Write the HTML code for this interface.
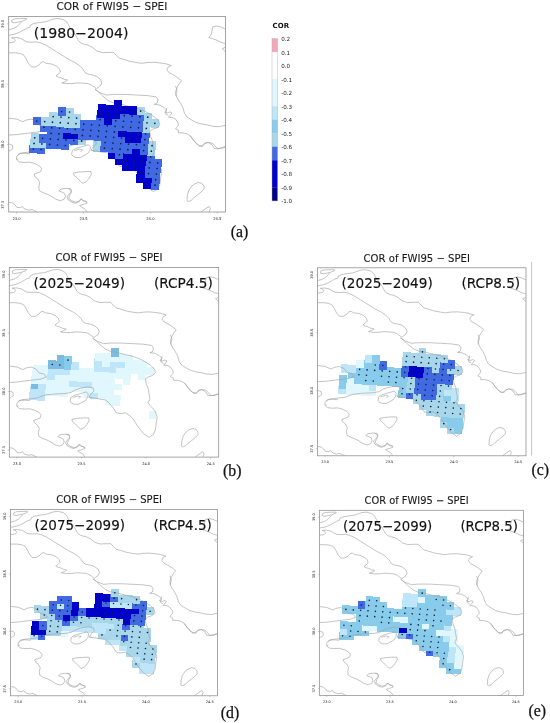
<!DOCTYPE html>
<html lang="en"><head><meta charset="utf-8"><title>COR of FWI95 - SPEI</title>
<style>html,body{margin:0;padding:0;background:#fff}svg{display:block}text{font-family:"DejaVu Sans","Liberation Sans",sans-serif}</style>
</head><body>
<svg width="550" height="723" viewBox="0 0 550 723">
<rect width="550" height="723" fill="#fff"/>
<defs><clipPath id="fc"><rect x="0" y="0" width="216.8" height="195.5"/></clipPath>
<path id="coast" d="M2.9 3.9 L5.8 2.4 L11.7 2.0 L17.9 2.0 L17.5 3.1 L13.8 4.6 L9.5 5.6 L5.8 6.3 L3.4 5.9Z M0.0 13.3 L5.1 11.9 L8.8 9.7 L10.9 7.5 L12.7 5.6 M0.0 18.8 L5.8 17.7 L10.9 15.8 L15.3 13.3 L18.2 11.6 L21.1 10.8 L21.8 8.5 L24.8 7.1 L30.6 6.0 L36.4 5.3 L40.8 3.9 L45.1 2.4 L50.2 2.0 L55.3 3.4 L58.2 5.6 L59.7 8.2 L61.1 11.1 L63.3 14.0 L66.2 17.7 L68.4 21.3 L69.8 24.2 L72.0 26.4 L75.7 27.9 L79.3 28.6 M79.3 28.6 L83.7 30.8 L88.0 34.4 L93.8 36.2 L99.7 35.9 L104.8 35.9 L107.7 38.8 L110.6 41.7 L115.7 43.1 L121.5 44.9 L127.3 46.0 L133.1 46.8 L138.9 46.0 L144.8 45.8 L150.6 46.3 M150.6 46.3 L156.8 47.2 L162.6 49.0 L159.7 50.4 L158.2 53.3 L160.4 56.2 L164.8 58.4 L169.1 61.3 L172.8 64.2 L170.6 67.1 L168.4 70.8 L166.9 75.1 L167.7 79.5 M166.9 69.5 L168.4 73.9 L166.9 78.2 L169.1 82.6 L172.0 87.0 L174.2 91.3 L175.7 96.4 L177.8 100.0 L182.2 103.0 L187.3 105.9 L193.1 107.6 L198.9 108.5 L204.8 109.9 L210.6 110.2 L216.7 108.8 M0.0 26.4 L5.1 25.7 L6.6 23.9 L5.1 22.0 L2.9 21.3 L7.3 21.0 L12.4 22.0 L15.3 23.9 L18.2 25.4 L23.3 25.7 L27.7 25.4 L32.0 26.4 L37.1 28.6 L42.9 32.2 L48.8 35.9 L54.6 39.5 L60.4 43.1 L66.2 46.0 L70.6 49.0 L74.2 52.6 L76.4 56.2 L79.3 57.7 M79.3 57.7 L83.7 58.4 L88.0 59.9 L91.7 62.8 L93.1 66.4 L91.7 69.3 L89.5 70.8 L87.7 72.2 M0.0 36.3 L6.6 36.3 L11.7 37.0 L15.3 38.8 L17.5 42.4 L19.7 46.8 L22.6 50.4 L26.9 50.4 L30.6 48.2 L32.5 45.8 L34.9 45.3 L37.4 46.8 L42.9 47.5 L48.0 49.7 L50.9 52.6 L51.7 55.5 L49.5 57.7 L47.3 59.4 L49.5 60.6 L52.4 61.3 L55.3 62.8 L58.9 63.5 L56.8 65.0 L53.1 66.4 L57.5 67.1 L63.3 67.1 L69.1 66.4 L74.9 66.7 L79.3 67.1 M79.3 67.1 L82.9 68.6 L85.8 70.8 L87.7 72.2 M216.7 12.6 L212.0 10.4 L207.7 9.4 L204.0 10.4 L203.3 14.0 L202.6 17.7 L200.1 21.0 L203.3 22.0 L207.7 23.5 L212.0 25.7 L216.7 27.1 M216.7 30.8 L213.5 32.2 L216.7 35.1 M0.1 101.6 L8.0 102.6 L14.2 105.3 L17.3 103.6 L22.5 102.6 L27.6 104.7 L30.7 108.8 L35.9 109.8 L38.4 112.9 L32.8 115.0 L24.5 116.0 L16.3 117.0 L8.0 118.1 L0.1 118.5 M0.1 127.3 L3.8 128.8 L4.2 132.1 L1.3 134.1 L0.1 134.6 M9.0 138.7 L12.1 136.6 L20.4 135.6 L28.7 134.6 L37.0 131.5 L47.3 130.4 L57.7 130.0 L63.9 128.8 L68.0 126.3 L74.2 124.2 L81.5 123.2 L86.7 124.2 L87.7 127.3 L84.6 130.4 L82.5 133.5 L85.6 134.6 M82.5 133.8 L88.2 134.7 L93.8 135.7 L99.5 136.6 L103.2 139.4 L107.0 144.1 L110.8 149.7 L114.5 150.7 L120.2 149.7 L125.8 153.5 L129.6 158.2 L132.4 162.9 L135.2 166.6 L139.0 171.3 L144.6 175.1 L149.3 172.2 L151.2 167.6 L152.2 160.1 L153.1 154.4 L151.2 148.8 L148.4 145.1 L145.6 142.2 L143.7 139.4 L145.6 135.7 L144.6 130.1 L143.7 124.4 L141.8 119.8 L140.9 115.1 L143.7 112.8 L148.4 111.3 L151.2 108.5 L150.3 104.8 L146.5 101.0 L140.9 97.3 L135.2 94.4 L127.7 91.6 L120.2 89.8 L112.6 87.9 L105.1 86.6 L99.5 84.1 L93.8 79.4 L90.0 75.7 L86.3 72.9 M86.3 72.9 L91.0 76.1 L97.6 78.5 L105.1 77.9 L116.4 77.9 L127.7 78.5 L139.0 79.1 L147.5 80.4 L149.3 83.2 L148.4 86.6 L145.6 87.9 L150.3 88.4 L155.0 90.7 L157.8 93.5 L156.9 97.3 L159.7 99.1 M158.2 91.3 L157.5 94.2 L156.0 95.7 L158.9 96.4 L161.1 95.4 L163.3 96.4 L161.1 99.3 L159.7 100.8 L163.3 100.8 L166.9 102.7 L169.1 105.9 L169.8 108.8 L167.7 111.0 L166.9 112.4 L169.8 113.9 L169.8 116.3 L174.2 116.3 L178.6 117.5 L182.2 119.7 L184.4 123.3 L187.3 126.2 L190.2 129.1 L193.8 129.9 L195.3 127.7 L198.9 125.9 L203.3 126.5 L206.2 129.1 L208.4 132.0 L212.0 132.0 L216.7 130.6 M9.5 142.8 L7.7 142.8 L8.0 139.9 L10.2 137.2 L15.3 136.7 L21.1 137.2 M7.7 142.8 L10.2 145.4 L15.3 146.0 L21.1 145.7 L26.2 147.1 L30.6 149.3 L33.0 152.2 L32.0 155.1 L28.4 156.6 L25.2 157.6 L26.2 160.2 L29.1 162.4 L31.0 166.0 L30.1 170.4 L30.6 174.0 L34.2 176.2 L38.6 177.7 L42.9 179.9 L47.3 182.8 L51.7 184.2 L55.3 182.8 L56.8 179.9 L56.0 177.0 L53.1 175.5 L50.2 174.5 L52.4 172.6 L56.8 171.9 L61.8 172.2 L63.0 174.8 L60.4 177.7 L58.2 180.6 L59.7 183.5 L63.3 185.7 L66.9 186.7 L70.6 185.0 L72.8 182.3 L74.9 184.2 L78.6 185.7 M0.0 185.7 L3.7 186.4 L6.6 188.6 L8.0 190.8 L11.7 191.1 L13.8 190.0 L15.3 192.2 L19.7 193.7 L23.3 193.0 L26.2 194.4 L28.4 195.4 M62.9 137.7 L63.7 134.0 L67.3 131.9 L72.4 130.4 L76.0 129.4 L79.7 128.2 L81.8 130.4 L81.1 134.0 L78.9 137.0 L75.3 139.1 L71.7 141.0 L67.3 141.0 L64.4 139.9Z M65.8 134.0 L70.9 132.6 L73.8 133.3 L71.7 135.5 M64.8 156.6 L69.5 155.6 L76.8 155.1 L82.3 155.1 L82.6 158.0 L80.4 161.7 L77.5 165.3 L73.8 166.8 L70.9 163.9 L68.0 161.0 L65.4 158.8Z M59.3 171.9 L61.9 173.3 L62.5 176.2 L60.8 179.1 L60.0 182.0 L62.9 184.2 L66.6 185.7 L70.2 185.0 L72.1 182.3 L73.8 184.2 L77.5 185.0 L78.2 186.7 L74.6 187.9 L70.9 189.0 L73.1 190.8 L76.0 192.2 L78.2 195.4 M181.5 119.5 L184.4 123.1 L187.3 126.8 L190.9 129.7 L193.8 129.0 L196.0 126.5 L199.7 126.0 L203.3 128.2 L205.5 131.9 L209.1 132.3 L213.5 131.1 L216.7 130.0 M178.3 184.2 L178.6 179.1 L180.0 174.0 L182.9 169.7 L185.8 167.5 L189.5 166.0 L193.1 166.8 L195.3 169.7 L195.3 172.6 L192.4 175.5 L188.8 178.4 L185.1 181.3 L182.2 184.2 L179.3 185.0Z M192.4 195.4 L196.8 192.2 L200.4 190.0 L201.6 192.2 L200.4 195.4" fill="none" stroke="#a4a4a4" stroke-width="0.68" stroke-linejoin="round"/></defs>
<g transform="translate(8.70 16.50) scale(1.0000 1.0000)">
<g clip-path="url(#fc)">
<g shape-rendering="crispEdges">
<rect x="134.44" y="163.85" width="8.00" height="8.70" fill="#0000cd"/>
<rect x="142.26" y="164.37" width="8.00" height="8.70" fill="#4169e1"/>
<rect x="127.32" y="157.75" width="8.00" height="8.70" fill="#0000cd"/>
<rect x="135.14" y="158.27" width="8.00" height="8.70" fill="#0000cd"/>
<rect x="142.96" y="158.79" width="8.00" height="8.70" fill="#4169e1"/>
<rect x="128.02" y="152.17" width="8.00" height="8.70" fill="#0000cd"/>
<rect x="135.84" y="152.69" width="8.00" height="8.70" fill="#4169e1"/>
<rect x="143.66" y="153.21" width="8.00" height="8.70" fill="#4169e1"/>
<rect x="113.08" y="145.55" width="8.00" height="8.70" fill="#0000cd"/>
<rect x="120.90" y="146.07" width="8.00" height="8.70" fill="#0000cd"/>
<rect x="128.72" y="146.59" width="8.00" height="8.70" fill="#0000cd"/>
<rect x="136.54" y="147.11" width="8.00" height="8.70" fill="#4169e1"/>
<rect x="144.36" y="147.63" width="8.00" height="8.70" fill="#4169e1"/>
<rect x="105.96" y="139.45" width="8.00" height="8.70" fill="#0000cd"/>
<rect x="113.78" y="139.97" width="8.00" height="8.70" fill="#0000cd"/>
<rect x="121.60" y="140.49" width="8.00" height="8.70" fill="#0000cd"/>
<rect x="129.42" y="141.01" width="8.00" height="8.70" fill="#0000cd"/>
<rect x="137.24" y="141.53" width="8.00" height="8.70" fill="#4169e1"/>
<rect x="145.06" y="142.05" width="8.00" height="8.70" fill="#4169e1"/>
<rect x="20.64" y="128.15" width="8.00" height="8.70" fill="#4169e1"/>
<rect x="28.46" y="128.67" width="8.00" height="8.70" fill="#4169e1"/>
<rect x="98.84" y="133.35" width="8.00" height="8.70" fill="#0000cd"/>
<rect x="106.66" y="133.87" width="8.00" height="8.70" fill="#4169e1"/>
<rect x="114.48" y="134.39" width="8.00" height="8.70" fill="#0000cd"/>
<rect x="122.30" y="134.91" width="8.00" height="8.70" fill="#0000cd"/>
<rect x="130.12" y="135.43" width="8.00" height="8.70" fill="#0000cd"/>
<rect x="137.94" y="135.95" width="8.00" height="8.70" fill="#4169e1"/>
<rect x="21.34" y="122.57" width="8.00" height="8.70" fill="#a8d6ea"/>
<rect x="29.16" y="123.09" width="8.00" height="8.70" fill="#a8d6ea"/>
<rect x="36.98" y="123.61" width="8.00" height="8.70" fill="#4169e1"/>
<rect x="44.80" y="124.13" width="8.00" height="8.70" fill="#4169e1"/>
<rect x="52.62" y="124.65" width="8.00" height="8.70" fill="#4169e1"/>
<rect x="83.90" y="126.73" width="8.00" height="8.70" fill="#a8d6ea"/>
<rect x="91.72" y="127.25" width="8.00" height="8.70" fill="#4169e1"/>
<rect x="99.54" y="127.77" width="8.00" height="8.70" fill="#4169e1"/>
<rect x="107.36" y="128.29" width="8.00" height="8.70" fill="#4169e1"/>
<rect x="115.18" y="128.81" width="8.00" height="8.70" fill="#4169e1"/>
<rect x="123.00" y="129.33" width="8.00" height="8.70" fill="#0000cd"/>
<rect x="130.82" y="129.85" width="8.00" height="8.70" fill="#4169e1"/>
<rect x="138.64" y="130.37" width="8.00" height="8.70" fill="#a8d6ea"/>
<rect x="22.04" y="116.99" width="8.00" height="8.70" fill="#a8d6ea"/>
<rect x="29.86" y="117.51" width="8.00" height="8.70" fill="#4169e1"/>
<rect x="37.68" y="118.03" width="8.00" height="8.70" fill="#4169e1"/>
<rect x="45.50" y="118.55" width="8.00" height="8.70" fill="#4169e1"/>
<rect x="53.32" y="119.07" width="8.00" height="8.70" fill="#4169e1"/>
<rect x="61.14" y="119.59" width="8.00" height="8.70" fill="#4169e1"/>
<rect x="68.96" y="120.11" width="8.00" height="8.70" fill="#a8d6ea"/>
<rect x="84.60" y="121.15" width="8.00" height="8.70" fill="#a8d6ea"/>
<rect x="92.42" y="121.67" width="8.00" height="8.70" fill="#4169e1"/>
<rect x="100.24" y="122.19" width="8.00" height="8.70" fill="#4169e1"/>
<rect x="108.06" y="122.71" width="8.00" height="8.70" fill="#4169e1"/>
<rect x="115.88" y="123.23" width="8.00" height="8.70" fill="#4169e1"/>
<rect x="123.70" y="123.75" width="8.00" height="8.70" fill="#4169e1"/>
<rect x="131.52" y="124.27" width="8.00" height="8.70" fill="#4169e1"/>
<rect x="139.34" y="124.79" width="8.00" height="8.70" fill="#a8d6ea"/>
<rect x="38.38" y="112.45" width="8.00" height="8.70" fill="#4169e1"/>
<rect x="46.20" y="112.97" width="8.00" height="8.70" fill="#4169e1"/>
<rect x="54.02" y="113.49" width="8.00" height="8.70" fill="#0000cd"/>
<rect x="61.84" y="114.01" width="8.00" height="8.70" fill="#0000cd"/>
<rect x="69.66" y="114.53" width="8.00" height="8.70" fill="#4169e1"/>
<rect x="77.48" y="115.05" width="8.00" height="8.70" fill="#4169e1"/>
<rect x="85.30" y="115.57" width="8.00" height="8.70" fill="#4169e1"/>
<rect x="93.12" y="116.09" width="8.00" height="8.70" fill="#4169e1"/>
<rect x="100.94" y="116.61" width="8.00" height="8.70" fill="#4169e1"/>
<rect x="108.76" y="117.13" width="8.00" height="8.70" fill="#4169e1"/>
<rect x="116.58" y="117.65" width="8.00" height="8.70" fill="#0000cd"/>
<rect x="124.40" y="118.17" width="8.00" height="8.70" fill="#0000cd"/>
<rect x="132.22" y="118.69" width="8.00" height="8.70" fill="#4169e1"/>
<rect x="31.26" y="106.35" width="8.00" height="8.70" fill="#4169e1"/>
<rect x="39.08" y="106.87" width="8.00" height="8.70" fill="#4169e1"/>
<rect x="46.90" y="107.39" width="8.00" height="8.70" fill="#4169e1"/>
<rect x="54.72" y="107.91" width="8.00" height="8.70" fill="#4169e1"/>
<rect x="62.54" y="108.43" width="8.00" height="8.70" fill="#4169e1"/>
<rect x="70.36" y="108.95" width="8.00" height="8.70" fill="#4169e1"/>
<rect x="78.18" y="109.47" width="8.00" height="8.70" fill="#4169e1"/>
<rect x="86.00" y="109.99" width="8.00" height="8.70" fill="#4169e1"/>
<rect x="93.82" y="110.51" width="8.00" height="8.70" fill="#4169e1"/>
<rect x="101.64" y="111.03" width="8.00" height="8.70" fill="#4169e1"/>
<rect x="109.46" y="111.55" width="8.00" height="8.70" fill="#0000cd"/>
<rect x="117.28" y="112.07" width="8.00" height="8.70" fill="#0000cd"/>
<rect x="125.10" y="112.59" width="8.00" height="8.70" fill="#0000cd"/>
<rect x="132.92" y="113.11" width="8.00" height="8.70" fill="#4169e1"/>
<rect x="24.14" y="100.25" width="8.00" height="8.70" fill="#4169e1"/>
<rect x="31.96" y="100.77" width="8.00" height="8.70" fill="#a8d6ea"/>
<rect x="39.78" y="101.29" width="8.00" height="8.70" fill="#a8d6ea"/>
<rect x="47.60" y="101.81" width="8.00" height="8.70" fill="#a8d6ea"/>
<rect x="55.42" y="102.33" width="8.00" height="8.70" fill="#a8d6ea"/>
<rect x="63.24" y="102.85" width="8.00" height="8.70" fill="#a8d6ea"/>
<rect x="71.06" y="103.37" width="8.00" height="8.70" fill="#4169e1"/>
<rect x="78.88" y="103.89" width="8.00" height="8.70" fill="#4169e1"/>
<rect x="86.70" y="104.41" width="8.00" height="8.70" fill="#4169e1"/>
<rect x="94.52" y="104.93" width="8.00" height="8.70" fill="#4169e1"/>
<rect x="102.34" y="105.45" width="8.00" height="8.70" fill="#4169e1"/>
<rect x="110.16" y="105.97" width="8.00" height="8.70" fill="#4169e1"/>
<rect x="117.98" y="106.49" width="8.00" height="8.70" fill="#4169e1"/>
<rect x="125.80" y="107.01" width="8.00" height="8.70" fill="#4169e1"/>
<rect x="133.62" y="107.53" width="8.00" height="8.70" fill="#a8d6ea"/>
<rect x="40.48" y="95.71" width="8.00" height="8.70" fill="#a8d6ea"/>
<rect x="48.30" y="96.23" width="8.00" height="8.70" fill="#a8d6ea"/>
<rect x="56.12" y="96.75" width="8.00" height="8.70" fill="#a8d6ea"/>
<rect x="63.94" y="97.27" width="8.00" height="8.70" fill="#a8d6ea"/>
<rect x="87.40" y="98.83" width="8.00" height="8.70" fill="#4169e1"/>
<rect x="95.22" y="99.35" width="8.00" height="8.70" fill="#0000cd"/>
<rect x="103.04" y="99.87" width="8.00" height="8.70" fill="#4169e1"/>
<rect x="110.86" y="100.39" width="8.00" height="8.70" fill="#4169e1"/>
<rect x="118.68" y="100.91" width="8.00" height="8.70" fill="#4169e1"/>
<rect x="126.50" y="101.43" width="8.00" height="8.70" fill="#4169e1"/>
<rect x="134.32" y="101.95" width="8.00" height="8.70" fill="#a8d6ea"/>
<rect x="142.14" y="102.47" width="8.00" height="8.70" fill="#a8d6ea"/>
<rect x="49.00" y="90.65" width="8.00" height="8.70" fill="#4169e1"/>
<rect x="56.82" y="91.17" width="8.00" height="8.70" fill="#a8d6ea"/>
<rect x="88.10" y="93.25" width="8.00" height="8.70" fill="#0000cd"/>
<rect x="95.92" y="93.77" width="8.00" height="8.70" fill="#0000cd"/>
<rect x="103.74" y="94.29" width="8.00" height="8.70" fill="#0000cd"/>
<rect x="111.56" y="94.81" width="8.00" height="8.70" fill="#4169e1"/>
<rect x="119.38" y="95.33" width="8.00" height="8.70" fill="#4169e1"/>
<rect x="127.20" y="95.85" width="8.00" height="8.70" fill="#4169e1"/>
<rect x="135.02" y="96.37" width="8.00" height="8.70" fill="#a8d6ea"/>
<rect x="88.80" y="87.67" width="8.00" height="8.70" fill="#0000cd"/>
<rect x="96.62" y="88.19" width="8.00" height="8.70" fill="#0000cd"/>
<rect x="104.44" y="88.71" width="8.00" height="8.70" fill="#0000cd"/>
<rect x="112.26" y="89.23" width="8.00" height="8.70" fill="#0000cd"/>
<rect x="120.08" y="89.75" width="8.00" height="8.70" fill="#0000cd"/>
<rect x="127.90" y="90.27" width="8.00" height="8.70" fill="#a8d6ea"/>
<rect x="105.14" y="83.13" width="8.00" height="8.70" fill="#0000cd"/>
</g>
<use href="#coast"/>
<g shape-rendering="crispEdges">
<rect x="105.14" y="86.25" width="8.00" height="5.58" fill="#0000cd"/>
<rect x="105.84" y="83.13" width="7.30" height="3.22" fill="#0000cd"/>
<rect x="105.14" y="83.13" width="0.70" height="3.22" fill="#0000cd"/>
<rect x="88.80" y="90.79" width="8.00" height="5.58" fill="#0000cd"/>
<rect x="89.50" y="87.67" width="7.30" height="3.22" fill="#0000cd"/>
<rect x="88.80" y="87.67" width="0.70" height="3.22" fill="#0000cd"/>
<rect x="96.62" y="91.31" width="8.00" height="5.58" fill="#0000cd"/>
<rect x="97.32" y="88.19" width="7.30" height="3.22" fill="#0000cd"/>
<rect x="96.62" y="88.19" width="0.70" height="3.22" fill="#0000cd"/>
<rect x="104.44" y="91.83" width="8.00" height="5.58" fill="#0000cd"/>
<rect x="104.44" y="88.71" width="0.70" height="3.22" fill="#0000cd"/>
<rect x="112.26" y="92.35" width="8.00" height="5.58" fill="#0000cd"/>
<rect x="112.96" y="89.23" width="7.30" height="3.22" fill="#0000cd"/>
<rect x="120.08" y="92.87" width="8.00" height="5.58" fill="#0000cd"/>
<rect x="120.78" y="89.75" width="7.30" height="3.22" fill="#0000cd"/>
<rect x="120.08" y="89.75" width="0.70" height="3.22" fill="#0000cd"/>
<rect x="49.00" y="93.77" width="8.00" height="5.58" fill="#4169e1"/>
<rect x="49.70" y="90.65" width="7.30" height="3.22" fill="#4169e1"/>
<rect x="49.00" y="90.65" width="0.70" height="3.22" fill="#4169e1"/>
<rect x="88.10" y="96.37" width="8.00" height="5.58" fill="#0000cd"/>
<rect x="88.10" y="93.25" width="0.70" height="3.22" fill="#0000cd"/>
<rect x="95.92" y="96.89" width="8.00" height="5.58" fill="#0000cd"/>
<rect x="103.74" y="97.41" width="8.00" height="5.58" fill="#0000cd"/>
<rect x="111.56" y="97.93" width="8.00" height="5.58" fill="#4169e1"/>
<rect x="119.38" y="98.45" width="8.00" height="5.58" fill="#4169e1"/>
<rect x="127.20" y="98.97" width="8.00" height="5.58" fill="#4169e1"/>
<rect x="87.40" y="101.95" width="8.00" height="5.58" fill="#4169e1"/>
<rect x="87.40" y="98.83" width="0.70" height="3.22" fill="#4169e1"/>
<rect x="95.22" y="102.47" width="8.00" height="5.58" fill="#0000cd"/>
<rect x="103.04" y="102.99" width="8.00" height="5.58" fill="#4169e1"/>
<rect x="110.86" y="103.51" width="8.00" height="5.58" fill="#4169e1"/>
<rect x="118.68" y="104.03" width="8.00" height="5.58" fill="#4169e1"/>
<rect x="126.50" y="104.55" width="8.00" height="5.58" fill="#4169e1"/>
<rect x="24.14" y="103.37" width="8.00" height="5.58" fill="#4169e1"/>
<rect x="24.84" y="100.25" width="7.30" height="3.22" fill="#4169e1"/>
<rect x="24.14" y="100.25" width="0.70" height="3.22" fill="#4169e1"/>
<rect x="71.06" y="106.49" width="8.00" height="5.58" fill="#4169e1"/>
<rect x="71.76" y="103.37" width="7.30" height="3.22" fill="#4169e1"/>
<rect x="78.88" y="107.01" width="8.00" height="5.58" fill="#4169e1"/>
<rect x="79.58" y="103.89" width="7.30" height="3.22" fill="#4169e1"/>
<rect x="78.88" y="103.89" width="0.70" height="3.22" fill="#4169e1"/>
<rect x="86.70" y="107.53" width="8.00" height="5.58" fill="#4169e1"/>
<rect x="86.70" y="104.41" width="0.70" height="3.22" fill="#4169e1"/>
<rect x="94.52" y="108.05" width="8.00" height="5.58" fill="#4169e1"/>
<rect x="102.34" y="108.57" width="8.00" height="5.58" fill="#4169e1"/>
<rect x="110.16" y="109.09" width="8.00" height="5.58" fill="#4169e1"/>
<rect x="117.98" y="109.61" width="8.00" height="5.58" fill="#4169e1"/>
<rect x="125.80" y="110.13" width="8.00" height="5.58" fill="#4169e1"/>
<rect x="31.26" y="109.47" width="8.00" height="5.58" fill="#4169e1"/>
<rect x="39.08" y="109.99" width="8.00" height="5.58" fill="#4169e1"/>
<rect x="46.90" y="110.51" width="8.00" height="5.58" fill="#4169e1"/>
<rect x="54.72" y="111.03" width="8.00" height="5.58" fill="#4169e1"/>
<rect x="62.54" y="111.55" width="8.00" height="5.58" fill="#4169e1"/>
<rect x="70.36" y="112.07" width="8.00" height="5.58" fill="#4169e1"/>
<rect x="78.18" y="112.59" width="8.00" height="5.58" fill="#4169e1"/>
<rect x="86.00" y="113.11" width="8.00" height="5.58" fill="#4169e1"/>
<rect x="93.82" y="113.63" width="8.00" height="5.58" fill="#4169e1"/>
<rect x="101.64" y="114.15" width="8.00" height="5.58" fill="#4169e1"/>
<rect x="109.46" y="114.67" width="8.00" height="5.58" fill="#0000cd"/>
<rect x="117.28" y="115.19" width="8.00" height="5.58" fill="#0000cd"/>
<rect x="125.10" y="115.71" width="8.00" height="5.58" fill="#0000cd"/>
<rect x="132.92" y="116.23" width="8.00" height="5.58" fill="#4169e1"/>
<rect x="38.38" y="115.57" width="8.00" height="5.58" fill="#4169e1"/>
<rect x="46.20" y="116.09" width="8.00" height="5.58" fill="#4169e1"/>
<rect x="54.02" y="116.61" width="8.00" height="5.58" fill="#0000cd"/>
<rect x="61.84" y="117.13" width="8.00" height="5.58" fill="#0000cd"/>
<rect x="69.66" y="117.65" width="8.00" height="5.58" fill="#4169e1"/>
<rect x="77.48" y="118.17" width="8.00" height="5.58" fill="#4169e1"/>
<rect x="85.30" y="118.69" width="8.00" height="5.58" fill="#4169e1"/>
<rect x="93.12" y="119.21" width="8.00" height="5.58" fill="#4169e1"/>
<rect x="100.94" y="119.73" width="8.00" height="5.58" fill="#4169e1"/>
<rect x="108.76" y="120.25" width="8.00" height="5.58" fill="#4169e1"/>
<rect x="116.58" y="120.77" width="8.00" height="5.58" fill="#0000cd"/>
<rect x="124.40" y="121.29" width="8.00" height="5.58" fill="#0000cd"/>
<rect x="132.22" y="121.81" width="8.00" height="5.58" fill="#4169e1"/>
<rect x="29.86" y="120.63" width="8.00" height="5.58" fill="#4169e1"/>
<rect x="30.56" y="117.51" width="7.30" height="3.22" fill="#4169e1"/>
<rect x="29.86" y="117.51" width="0.70" height="3.22" fill="#4169e1"/>
<rect x="37.68" y="121.15" width="8.00" height="5.58" fill="#4169e1"/>
<rect x="37.68" y="118.03" width="0.70" height="3.22" fill="#4169e1"/>
<rect x="45.50" y="121.67" width="8.00" height="5.58" fill="#4169e1"/>
<rect x="53.32" y="122.19" width="8.00" height="5.58" fill="#4169e1"/>
<rect x="61.14" y="122.71" width="8.00" height="5.58" fill="#4169e1"/>
<rect x="92.42" y="124.79" width="8.00" height="5.58" fill="#4169e1"/>
<rect x="100.24" y="125.31" width="8.00" height="5.58" fill="#4169e1"/>
<rect x="108.06" y="125.83" width="8.00" height="5.58" fill="#4169e1"/>
<rect x="115.88" y="126.35" width="8.00" height="5.58" fill="#4169e1"/>
<rect x="123.70" y="126.87" width="8.00" height="5.58" fill="#4169e1"/>
<rect x="131.52" y="127.39" width="8.00" height="5.58" fill="#4169e1"/>
<rect x="36.98" y="126.73" width="8.00" height="5.58" fill="#4169e1"/>
<rect x="44.80" y="127.25" width="8.00" height="5.58" fill="#4169e1"/>
<rect x="52.62" y="127.77" width="8.00" height="5.58" fill="#4169e1"/>
<rect x="91.72" y="130.37" width="8.00" height="5.58" fill="#4169e1"/>
<rect x="99.54" y="130.89" width="8.00" height="5.58" fill="#4169e1"/>
<rect x="107.36" y="131.41" width="8.00" height="5.58" fill="#4169e1"/>
<rect x="115.18" y="131.93" width="8.00" height="5.58" fill="#4169e1"/>
<rect x="123.00" y="132.45" width="8.00" height="5.58" fill="#0000cd"/>
<rect x="130.82" y="132.97" width="8.00" height="5.58" fill="#4169e1"/>
<rect x="20.64" y="131.27" width="8.00" height="5.58" fill="#4169e1"/>
<rect x="20.64" y="128.15" width="0.70" height="3.22" fill="#4169e1"/>
<rect x="28.46" y="131.79" width="8.00" height="5.58" fill="#4169e1"/>
<rect x="98.84" y="136.47" width="8.00" height="5.58" fill="#0000cd"/>
<rect x="106.66" y="136.99" width="8.00" height="5.58" fill="#4169e1"/>
<rect x="114.48" y="137.51" width="8.00" height="5.58" fill="#0000cd"/>
<rect x="122.30" y="138.03" width="8.00" height="5.58" fill="#0000cd"/>
<rect x="130.12" y="138.55" width="8.00" height="5.58" fill="#0000cd"/>
<rect x="137.94" y="139.07" width="8.00" height="5.58" fill="#4169e1"/>
<rect x="105.96" y="142.57" width="8.00" height="5.58" fill="#0000cd"/>
<rect x="113.78" y="143.09" width="8.00" height="5.58" fill="#0000cd"/>
<rect x="121.60" y="143.61" width="8.00" height="5.58" fill="#0000cd"/>
<rect x="129.42" y="144.13" width="8.00" height="5.58" fill="#0000cd"/>
<rect x="137.24" y="144.65" width="8.00" height="5.58" fill="#4169e1"/>
<rect x="145.06" y="145.17" width="8.00" height="5.58" fill="#4169e1"/>
<rect x="145.76" y="142.05" width="7.30" height="3.22" fill="#4169e1"/>
<rect x="113.08" y="148.67" width="8.00" height="5.58" fill="#0000cd"/>
<rect x="120.90" y="149.19" width="8.00" height="5.58" fill="#0000cd"/>
<rect x="128.72" y="149.71" width="8.00" height="5.58" fill="#0000cd"/>
<rect x="136.54" y="150.23" width="8.00" height="5.58" fill="#4169e1"/>
<rect x="144.36" y="150.75" width="8.00" height="5.58" fill="#4169e1"/>
<rect x="128.02" y="155.29" width="8.00" height="5.58" fill="#0000cd"/>
<rect x="135.84" y="155.81" width="8.00" height="5.58" fill="#4169e1"/>
<rect x="143.66" y="156.33" width="8.00" height="5.58" fill="#4169e1"/>
<rect x="127.32" y="160.87" width="8.00" height="5.58" fill="#0000cd"/>
<rect x="127.32" y="157.75" width="0.70" height="3.22" fill="#0000cd"/>
<rect x="135.14" y="161.39" width="8.00" height="5.58" fill="#0000cd"/>
<rect x="142.96" y="161.91" width="8.00" height="5.58" fill="#4169e1"/>
<rect x="134.44" y="166.97" width="8.00" height="5.58" fill="#0000cd"/>
<rect x="142.26" y="167.49" width="8.00" height="5.58" fill="#4169e1"/>
</g>
<circle cx="109.14" cy="87.48" r="0.85" fill="#0e2240"/>
<circle cx="92.80" cy="92.02" r="0.85" fill="#0e2240"/>
<circle cx="100.62" cy="92.54" r="0.85" fill="#0e2240"/>
<circle cx="108.44" cy="93.06" r="0.85" fill="#0e2240"/>
<circle cx="116.26" cy="93.58" r="0.85" fill="#0e2240"/>
<circle cx="124.08" cy="94.10" r="0.85" fill="#0e2240"/>
<circle cx="131.90" cy="94.62" r="0.85" fill="#0e2240"/>
<circle cx="53.00" cy="95.00" r="0.85" fill="#0e2240"/>
<circle cx="60.82" cy="95.52" r="0.85" fill="#0e2240"/>
<circle cx="92.10" cy="97.60" r="0.85" fill="#0e2240"/>
<circle cx="99.92" cy="98.12" r="0.85" fill="#0e2240"/>
<circle cx="107.74" cy="98.64" r="0.85" fill="#0e2240"/>
<circle cx="115.56" cy="99.16" r="0.85" fill="#0e2240"/>
<circle cx="123.38" cy="99.68" r="0.85" fill="#0e2240"/>
<circle cx="131.20" cy="100.20" r="0.85" fill="#0e2240"/>
<circle cx="139.02" cy="100.72" r="0.85" fill="#0e2240"/>
<circle cx="44.48" cy="100.06" r="0.85" fill="#0e2240"/>
<circle cx="52.30" cy="100.58" r="0.85" fill="#0e2240"/>
<circle cx="60.12" cy="101.10" r="0.85" fill="#0e2240"/>
<circle cx="67.94" cy="101.62" r="0.85" fill="#0e2240"/>
<circle cx="91.40" cy="103.18" r="0.85" fill="#0e2240"/>
<circle cx="99.22" cy="103.70" r="0.85" fill="#0e2240"/>
<circle cx="107.04" cy="104.22" r="0.85" fill="#0e2240"/>
<circle cx="114.86" cy="104.74" r="0.85" fill="#0e2240"/>
<circle cx="122.68" cy="105.26" r="0.85" fill="#0e2240"/>
<circle cx="130.50" cy="105.78" r="0.85" fill="#0e2240"/>
<circle cx="138.32" cy="106.30" r="0.85" fill="#0e2240"/>
<circle cx="146.14" cy="106.82" r="0.85" fill="#0e2240"/>
<circle cx="28.14" cy="104.60" r="0.85" fill="#0e2240"/>
<circle cx="35.96" cy="105.12" r="0.85" fill="#0e2240"/>
<circle cx="43.78" cy="105.64" r="0.85" fill="#0e2240"/>
<circle cx="51.60" cy="106.16" r="0.85" fill="#0e2240"/>
<circle cx="59.42" cy="106.68" r="0.85" fill="#0e2240"/>
<circle cx="67.24" cy="107.20" r="0.85" fill="#0e2240"/>
<circle cx="75.06" cy="107.72" r="0.85" fill="#0e2240"/>
<circle cx="82.88" cy="108.24" r="0.85" fill="#0e2240"/>
<circle cx="90.70" cy="108.76" r="0.85" fill="#0e2240"/>
<circle cx="98.52" cy="109.28" r="0.85" fill="#0e2240"/>
<circle cx="106.34" cy="109.80" r="0.85" fill="#0e2240"/>
<circle cx="114.16" cy="110.32" r="0.85" fill="#0e2240"/>
<circle cx="121.98" cy="110.84" r="0.85" fill="#0e2240"/>
<circle cx="129.80" cy="111.36" r="0.85" fill="#0e2240"/>
<circle cx="137.62" cy="111.88" r="0.85" fill="#0e2240"/>
<circle cx="35.26" cy="110.70" r="0.85" fill="#0e2240"/>
<circle cx="43.08" cy="111.22" r="0.85" fill="#0e2240"/>
<circle cx="50.90" cy="111.74" r="0.85" fill="#0e2240"/>
<circle cx="58.72" cy="112.26" r="0.85" fill="#0e2240"/>
<circle cx="66.54" cy="112.78" r="0.85" fill="#0e2240"/>
<circle cx="74.36" cy="113.30" r="0.85" fill="#0e2240"/>
<circle cx="82.18" cy="113.82" r="0.85" fill="#0e2240"/>
<circle cx="90.00" cy="114.34" r="0.85" fill="#0e2240"/>
<circle cx="97.82" cy="114.86" r="0.85" fill="#0e2240"/>
<circle cx="105.64" cy="115.38" r="0.85" fill="#0e2240"/>
<circle cx="113.46" cy="115.90" r="0.85" fill="#0e2240"/>
<circle cx="121.28" cy="116.42" r="0.85" fill="#0e2240"/>
<circle cx="129.10" cy="116.94" r="0.85" fill="#0e2240"/>
<circle cx="136.92" cy="117.46" r="0.85" fill="#0e2240"/>
<circle cx="42.38" cy="116.80" r="0.85" fill="#0e2240"/>
<circle cx="50.20" cy="117.32" r="0.85" fill="#0e2240"/>
<circle cx="58.02" cy="117.84" r="0.85" fill="#0e2240"/>
<circle cx="65.84" cy="118.36" r="0.85" fill="#0e2240"/>
<circle cx="73.66" cy="118.88" r="0.85" fill="#0e2240"/>
<circle cx="81.48" cy="119.40" r="0.85" fill="#0e2240"/>
<circle cx="89.30" cy="119.92" r="0.85" fill="#0e2240"/>
<circle cx="97.12" cy="120.44" r="0.85" fill="#0e2240"/>
<circle cx="104.94" cy="120.96" r="0.85" fill="#0e2240"/>
<circle cx="112.76" cy="121.48" r="0.85" fill="#0e2240"/>
<circle cx="120.58" cy="122.00" r="0.85" fill="#0e2240"/>
<circle cx="128.40" cy="122.52" r="0.85" fill="#0e2240"/>
<circle cx="136.22" cy="123.04" r="0.85" fill="#0e2240"/>
<circle cx="26.04" cy="121.34" r="0.85" fill="#0e2240"/>
<circle cx="33.86" cy="121.86" r="0.85" fill="#0e2240"/>
<circle cx="41.68" cy="122.38" r="0.85" fill="#0e2240"/>
<circle cx="49.50" cy="122.90" r="0.85" fill="#0e2240"/>
<circle cx="57.32" cy="123.42" r="0.85" fill="#0e2240"/>
<circle cx="65.14" cy="123.94" r="0.85" fill="#0e2240"/>
<circle cx="72.96" cy="124.46" r="0.85" fill="#0e2240"/>
<circle cx="96.42" cy="126.02" r="0.85" fill="#0e2240"/>
<circle cx="104.24" cy="126.54" r="0.85" fill="#0e2240"/>
<circle cx="112.06" cy="127.06" r="0.85" fill="#0e2240"/>
<circle cx="119.88" cy="127.58" r="0.85" fill="#0e2240"/>
<circle cx="127.70" cy="128.10" r="0.85" fill="#0e2240"/>
<circle cx="135.52" cy="128.62" r="0.85" fill="#0e2240"/>
<circle cx="143.34" cy="129.14" r="0.85" fill="#0e2240"/>
<circle cx="25.34" cy="126.92" r="0.85" fill="#0e2240"/>
<circle cx="33.16" cy="127.44" r="0.85" fill="#0e2240"/>
<circle cx="40.98" cy="127.96" r="0.85" fill="#0e2240"/>
<circle cx="48.80" cy="128.48" r="0.85" fill="#0e2240"/>
<circle cx="56.62" cy="129.00" r="0.85" fill="#0e2240"/>
<circle cx="95.72" cy="131.60" r="0.85" fill="#0e2240"/>
<circle cx="103.54" cy="132.12" r="0.85" fill="#0e2240"/>
<circle cx="111.36" cy="132.64" r="0.85" fill="#0e2240"/>
<circle cx="119.18" cy="133.16" r="0.85" fill="#0e2240"/>
<circle cx="127.00" cy="133.68" r="0.85" fill="#0e2240"/>
<circle cx="134.82" cy="134.20" r="0.85" fill="#0e2240"/>
<circle cx="142.64" cy="134.72" r="0.85" fill="#0e2240"/>
<circle cx="24.64" cy="132.50" r="0.85" fill="#0e2240"/>
<circle cx="32.46" cy="133.02" r="0.85" fill="#0e2240"/>
<circle cx="102.84" cy="137.70" r="0.85" fill="#0e2240"/>
<circle cx="110.66" cy="138.22" r="0.85" fill="#0e2240"/>
<circle cx="118.48" cy="138.74" r="0.85" fill="#0e2240"/>
<circle cx="126.30" cy="139.26" r="0.85" fill="#0e2240"/>
<circle cx="134.12" cy="139.78" r="0.85" fill="#0e2240"/>
<circle cx="141.94" cy="140.30" r="0.85" fill="#0e2240"/>
<circle cx="109.96" cy="143.80" r="0.85" fill="#0e2240"/>
<circle cx="117.78" cy="144.32" r="0.85" fill="#0e2240"/>
<circle cx="125.60" cy="144.84" r="0.85" fill="#0e2240"/>
<circle cx="133.42" cy="145.36" r="0.85" fill="#0e2240"/>
<circle cx="141.24" cy="145.88" r="0.85" fill="#0e2240"/>
<circle cx="149.06" cy="146.40" r="0.85" fill="#0e2240"/>
<circle cx="117.08" cy="149.90" r="0.85" fill="#0e2240"/>
<circle cx="124.90" cy="150.42" r="0.85" fill="#0e2240"/>
<circle cx="132.72" cy="150.94" r="0.85" fill="#0e2240"/>
<circle cx="140.54" cy="151.46" r="0.85" fill="#0e2240"/>
<circle cx="148.36" cy="151.98" r="0.85" fill="#0e2240"/>
<circle cx="132.02" cy="156.52" r="0.85" fill="#0e2240"/>
<circle cx="139.84" cy="157.04" r="0.85" fill="#0e2240"/>
<circle cx="147.66" cy="157.56" r="0.85" fill="#0e2240"/>
<circle cx="131.32" cy="162.10" r="0.85" fill="#0e2240"/>
<circle cx="139.14" cy="162.62" r="0.85" fill="#0e2240"/>
<circle cx="146.96" cy="163.14" r="0.85" fill="#0e2240"/>
<circle cx="138.44" cy="168.20" r="0.85" fill="#0e2240"/>
<circle cx="146.26" cy="168.72" r="0.85" fill="#0e2240"/>
</g>
<rect x="0" y="0" width="216.8" height="195.5" fill="none" stroke="#8e8e8e" stroke-width="0.8"/>
<line x1="7.9" y1="195.5" x2="7.9" y2="197.1" stroke="#999" stroke-width="0.5"/>
<text x="7.9" y="203.5" font-size="3.7" text-anchor="middle" fill="#111">23.0</text>
<line x1="74.8" y1="195.5" x2="74.8" y2="197.1" stroke="#999" stroke-width="0.5"/>
<text x="74.8" y="203.5" font-size="3.7" text-anchor="middle" fill="#111">23.5</text>
<line x1="141.7" y1="195.5" x2="141.7" y2="197.1" stroke="#999" stroke-width="0.5"/>
<text x="141.7" y="203.5" font-size="3.7" text-anchor="middle" fill="#111">24.0</text>
<line x1="208.6" y1="195.5" x2="208.6" y2="197.1" stroke="#999" stroke-width="0.5"/>
<text x="208.6" y="203.5" font-size="3.7" text-anchor="middle" fill="#111">24.5</text>
<line x1="-1.6" y1="7.3" x2="0" y2="7.3" stroke="#999" stroke-width="0.5"/>
<text transform="translate(-4.8 7.3) rotate(-90)" font-size="3.7" text-anchor="middle" fill="#111">39.0</text>
<line x1="-1.6" y1="67.6" x2="0" y2="67.6" stroke="#999" stroke-width="0.5"/>
<text transform="translate(-4.8 67.6) rotate(-90)" font-size="3.7" text-anchor="middle" fill="#111">38.5</text>
<line x1="-1.6" y1="127.9" x2="0" y2="127.9" stroke="#999" stroke-width="0.5"/>
<text transform="translate(-4.8 127.9) rotate(-90)" font-size="3.7" text-anchor="middle" fill="#111">38.0</text>
<line x1="-1.6" y1="188.2" x2="0" y2="188.2" stroke="#999" stroke-width="0.5"/>
<text transform="translate(-4.8 188.2) rotate(-90)" font-size="3.7" text-anchor="middle" fill="#111">37.5</text>
<text x="103.2" y="-7.0" font-size="10.5" text-anchor="middle" fill="#1a1a1a" stroke="#1a1a1a" stroke-width="0.12">COR of FWI95 − SPEI</text>
<text x="25.0" y="21.5" font-size="14.15" fill="#111" stroke="#111" stroke-width="0.15">(1980−2004)</text>
</g>
<text x="230.7" y="237.4" font-size="15.8" style="font-family:'Liberation Serif',serif" fill="#111" stroke="#111" stroke-width="0.25">(a)</text>
<g transform="translate(9.30 267.50) scale(0.9659 0.9698)">
<g clip-path="url(#fc)">
<g shape-rendering="crispEdges">
<rect x="144.36" y="147.63" width="8.00" height="8.70" fill="#e0f7fe"/>
<rect x="20.64" y="128.15" width="8.00" height="8.70" fill="#bfe6f8"/>
<rect x="28.46" y="128.67" width="8.00" height="8.70" fill="#bfe6f8"/>
<rect x="98.84" y="133.35" width="8.00" height="8.70" fill="#e0f7fe"/>
<rect x="106.66" y="133.87" width="8.00" height="8.70" fill="#e0f7fe"/>
<rect x="21.34" y="122.57" width="8.00" height="8.70" fill="#bfe6f8"/>
<rect x="29.16" y="123.09" width="8.00" height="8.70" fill="#bfe6f8"/>
<rect x="36.98" y="123.61" width="8.00" height="8.70" fill="#e0f7fe"/>
<rect x="44.80" y="124.13" width="8.00" height="8.70" fill="#e0f7fe"/>
<rect x="52.62" y="124.65" width="8.00" height="8.70" fill="#e0f7fe"/>
<rect x="76.08" y="126.21" width="8.00" height="8.70" fill="#e0f7fe"/>
<rect x="83.90" y="126.73" width="8.00" height="8.70" fill="#bfe6f8"/>
<rect x="91.72" y="127.25" width="8.00" height="8.70" fill="#e0f7fe"/>
<rect x="99.54" y="127.77" width="8.00" height="8.70" fill="#e0f7fe"/>
<rect x="107.36" y="128.29" width="8.00" height="8.70" fill="#e0f7fe"/>
<rect x="22.04" y="116.99" width="8.00" height="8.70" fill="#7cbce0"/>
<rect x="29.86" y="117.51" width="8.00" height="8.70" fill="#bfe6f8"/>
<rect x="37.68" y="118.03" width="8.00" height="8.70" fill="#e0f7fe"/>
<rect x="45.50" y="118.55" width="8.00" height="8.70" fill="#e0f7fe"/>
<rect x="53.32" y="119.07" width="8.00" height="8.70" fill="#e0f7fe"/>
<rect x="61.14" y="119.59" width="8.00" height="8.70" fill="#e0f7fe"/>
<rect x="68.96" y="120.11" width="8.00" height="8.70" fill="#e0f7fe"/>
<rect x="76.78" y="120.63" width="8.00" height="8.70" fill="#e0f7fe"/>
<rect x="84.60" y="121.15" width="8.00" height="8.70" fill="#e0f7fe"/>
<rect x="92.42" y="121.67" width="8.00" height="8.70" fill="#e0f7fe"/>
<rect x="100.24" y="122.19" width="8.00" height="8.70" fill="#e0f7fe"/>
<rect x="108.06" y="122.71" width="8.00" height="8.70" fill="#ffffff"/>
<rect x="22.74" y="111.41" width="8.00" height="8.70" fill="#e0f7fe"/>
<rect x="30.56" y="111.93" width="8.00" height="8.70" fill="#e0f7fe"/>
<rect x="38.38" y="112.45" width="8.00" height="8.70" fill="#e0f7fe"/>
<rect x="46.20" y="112.97" width="8.00" height="8.70" fill="#e0f7fe"/>
<rect x="54.02" y="113.49" width="8.00" height="8.70" fill="#e0f7fe"/>
<rect x="61.84" y="114.01" width="8.00" height="8.70" fill="#bfe6f8"/>
<rect x="69.66" y="114.53" width="8.00" height="8.70" fill="#bfe6f8"/>
<rect x="77.48" y="115.05" width="8.00" height="8.70" fill="#bfe6f8"/>
<rect x="85.30" y="115.57" width="8.00" height="8.70" fill="#e0f7fe"/>
<rect x="93.12" y="116.09" width="8.00" height="8.70" fill="#e0f7fe"/>
<rect x="100.94" y="116.61" width="8.00" height="8.70" fill="#e0f7fe"/>
<rect x="108.76" y="117.13" width="8.00" height="8.70" fill="#e0f7fe"/>
<rect x="23.44" y="105.83" width="8.00" height="8.70" fill="#e0f7fe"/>
<rect x="31.26" y="106.35" width="8.00" height="8.70" fill="#e0f7fe"/>
<rect x="39.08" y="106.87" width="8.00" height="8.70" fill="#bfe6f8"/>
<rect x="46.90" y="107.39" width="8.00" height="8.70" fill="#e0f7fe"/>
<rect x="54.72" y="107.91" width="8.00" height="8.70" fill="#e0f7fe"/>
<rect x="62.54" y="108.43" width="8.00" height="8.70" fill="#e0f7fe"/>
<rect x="70.36" y="108.95" width="8.00" height="8.70" fill="#e0f7fe"/>
<rect x="78.18" y="109.47" width="8.00" height="8.70" fill="#e0f7fe"/>
<rect x="86.00" y="109.99" width="8.00" height="8.70" fill="#e0f7fe"/>
<rect x="93.82" y="110.51" width="8.00" height="8.70" fill="#e0f7fe"/>
<rect x="101.64" y="111.03" width="8.00" height="8.70" fill="#e0f7fe"/>
<rect x="109.46" y="111.55" width="8.00" height="8.70" fill="#ffffff"/>
<rect x="117.28" y="112.07" width="8.00" height="8.70" fill="#e0f7fe"/>
<rect x="24.14" y="100.25" width="8.00" height="8.70" fill="#e0f7fe"/>
<rect x="31.96" y="100.77" width="8.00" height="8.70" fill="#e0f7fe"/>
<rect x="39.78" y="101.29" width="8.00" height="8.70" fill="#bfe6f8"/>
<rect x="47.60" y="101.81" width="8.00" height="8.70" fill="#bfe6f8"/>
<rect x="55.42" y="102.33" width="8.00" height="8.70" fill="#bfe6f8"/>
<rect x="63.24" y="102.85" width="8.00" height="8.70" fill="#e0f7fe"/>
<rect x="71.06" y="103.37" width="8.00" height="8.70" fill="#e0f7fe"/>
<rect x="78.88" y="103.89" width="8.00" height="8.70" fill="#e0f7fe"/>
<rect x="86.70" y="104.41" width="8.00" height="8.70" fill="#e0f7fe"/>
<rect x="94.52" y="104.93" width="8.00" height="8.70" fill="#e0f7fe"/>
<rect x="102.34" y="105.45" width="8.00" height="8.70" fill="#e0f7fe"/>
<rect x="110.16" y="105.97" width="8.00" height="8.70" fill="#e0f7fe"/>
<rect x="117.98" y="106.49" width="8.00" height="8.70" fill="#e0f7fe"/>
<rect x="125.80" y="107.01" width="8.00" height="8.70" fill="#ffffff"/>
<rect x="133.62" y="107.53" width="8.00" height="8.70" fill="#e0f7fe"/>
<rect x="40.48" y="95.71" width="8.00" height="8.70" fill="#7cbce0"/>
<rect x="48.30" y="96.23" width="8.00" height="8.70" fill="#7cbce0"/>
<rect x="56.12" y="96.75" width="8.00" height="8.70" fill="#88cbea"/>
<rect x="63.94" y="97.27" width="8.00" height="8.70" fill="#bfe6f8"/>
<rect x="87.40" y="98.83" width="8.00" height="8.70" fill="#bfe6f8"/>
<rect x="95.22" y="99.35" width="8.00" height="8.70" fill="#bfe6f8"/>
<rect x="103.04" y="99.87" width="8.00" height="8.70" fill="#bfe6f8"/>
<rect x="110.86" y="100.39" width="8.00" height="8.70" fill="#e0f7fe"/>
<rect x="118.68" y="100.91" width="8.00" height="8.70" fill="#e0f7fe"/>
<rect x="126.50" y="101.43" width="8.00" height="8.70" fill="#e0f7fe"/>
<rect x="134.32" y="101.95" width="8.00" height="8.70" fill="#e0f7fe"/>
<rect x="142.14" y="102.47" width="8.00" height="8.70" fill="#e0f7fe"/>
<rect x="49.00" y="90.65" width="8.00" height="8.70" fill="#7cbce0"/>
<rect x="56.82" y="91.17" width="8.00" height="8.70" fill="#88cbea"/>
<rect x="88.10" y="93.25" width="8.00" height="8.70" fill="#bfe6f8"/>
<rect x="95.92" y="93.77" width="8.00" height="8.70" fill="#e0f7fe"/>
<rect x="103.74" y="94.29" width="8.00" height="8.70" fill="#bfe6f8"/>
<rect x="111.56" y="94.81" width="8.00" height="8.70" fill="#bfe6f8"/>
<rect x="119.38" y="95.33" width="8.00" height="8.70" fill="#e0f7fe"/>
<rect x="127.20" y="95.85" width="8.00" height="8.70" fill="#e0f7fe"/>
<rect x="135.02" y="96.37" width="8.00" height="8.70" fill="#e0f7fe"/>
<rect x="88.80" y="87.67" width="8.00" height="8.70" fill="#e0f7fe"/>
<rect x="96.62" y="88.19" width="8.00" height="8.70" fill="#e0f7fe"/>
<rect x="104.44" y="88.71" width="8.00" height="8.70" fill="#e0f7fe"/>
<rect x="112.26" y="89.23" width="8.00" height="8.70" fill="#e0f7fe"/>
<rect x="120.08" y="89.75" width="8.00" height="8.70" fill="#e0f7fe"/>
<rect x="105.14" y="83.13" width="8.00" height="8.70" fill="#7cbce0"/>
</g>
<use href="#coast"/>
<g shape-rendering="crispEdges">
</g>
<circle cx="60.82" cy="95.52" r="0.85" fill="#0e2240"/>
<circle cx="44.48" cy="100.06" r="0.85" fill="#0e2240"/>
<circle cx="52.30" cy="100.58" r="0.85" fill="#0e2240"/>
</g>
<rect x="0" y="0" width="216.8" height="195.5" fill="none" stroke="#8e8e8e" stroke-width="0.8"/>
<line x1="7.9" y1="195.5" x2="7.9" y2="197.1" stroke="#999" stroke-width="0.5"/>
<text x="7.9" y="203.5" font-size="3.7" text-anchor="middle" fill="#111">23.0</text>
<line x1="74.8" y1="195.5" x2="74.8" y2="197.1" stroke="#999" stroke-width="0.5"/>
<text x="74.8" y="203.5" font-size="3.7" text-anchor="middle" fill="#111">23.5</text>
<line x1="141.7" y1="195.5" x2="141.7" y2="197.1" stroke="#999" stroke-width="0.5"/>
<text x="141.7" y="203.5" font-size="3.7" text-anchor="middle" fill="#111">24.0</text>
<line x1="208.6" y1="195.5" x2="208.6" y2="197.1" stroke="#999" stroke-width="0.5"/>
<text x="208.6" y="203.5" font-size="3.7" text-anchor="middle" fill="#111">24.5</text>
<line x1="-1.6" y1="7.3" x2="0" y2="7.3" stroke="#999" stroke-width="0.5"/>
<text transform="translate(-4.8 7.3) rotate(-90)" font-size="3.7" text-anchor="middle" fill="#111">39.0</text>
<line x1="-1.6" y1="67.6" x2="0" y2="67.6" stroke="#999" stroke-width="0.5"/>
<text transform="translate(-4.8 67.6) rotate(-90)" font-size="3.7" text-anchor="middle" fill="#111">38.5</text>
<line x1="-1.6" y1="127.9" x2="0" y2="127.9" stroke="#999" stroke-width="0.5"/>
<text transform="translate(-4.8 127.9) rotate(-90)" font-size="3.7" text-anchor="middle" fill="#111">38.0</text>
<line x1="-1.6" y1="188.2" x2="0" y2="188.2" stroke="#999" stroke-width="0.5"/>
<text transform="translate(-4.8 188.2) rotate(-90)" font-size="3.7" text-anchor="middle" fill="#111">37.5</text>
<text x="103.2" y="-6.8" font-size="10.5" text-anchor="middle" fill="#1a1a1a" stroke="#1a1a1a" stroke-width="0.12">COR of FWI95 − SPEI</text>
<text x="25.0" y="21.5" font-size="14.15" fill="#111" stroke="#111" stroke-width="0.15">(2025−2049)</text>
<text x="149.7" y="21.5" font-size="14.15" fill="#111" stroke="#111" stroke-width="0.15">(RCP4.5)</text>
</g>
<text x="223.1" y="476.0" font-size="15.8" style="font-family:'Liberation Serif',serif" fill="#111" stroke="#111" stroke-width="0.25">(b)</text>
<g transform="translate(317.50 267.80) scale(0.9617 0.9616)">
<g clip-path="url(#fc)">
<g shape-rendering="crispEdges">
<rect x="134.44" y="163.85" width="8.00" height="8.70" fill="#a8d6ea"/>
<rect x="142.26" y="164.37" width="8.00" height="8.70" fill="#88cbea"/>
<rect x="127.32" y="157.75" width="8.00" height="8.70" fill="#a8d6ea"/>
<rect x="135.14" y="158.27" width="8.00" height="8.70" fill="#88cbea"/>
<rect x="142.96" y="158.79" width="8.00" height="8.70" fill="#88cbea"/>
<rect x="128.02" y="152.17" width="8.00" height="8.70" fill="#88cbea"/>
<rect x="135.84" y="152.69" width="8.00" height="8.70" fill="#88cbea"/>
<rect x="143.66" y="153.21" width="8.00" height="8.70" fill="#88cbea"/>
<rect x="113.08" y="145.55" width="8.00" height="8.70" fill="#a8d6ea"/>
<rect x="120.90" y="146.07" width="8.00" height="8.70" fill="#a8d6ea"/>
<rect x="128.72" y="146.59" width="8.00" height="8.70" fill="#a8d6ea"/>
<rect x="136.54" y="147.11" width="8.00" height="8.70" fill="#a8d6ea"/>
<rect x="144.36" y="147.63" width="8.00" height="8.70" fill="#a8d6ea"/>
<rect x="105.96" y="139.45" width="8.00" height="8.70" fill="#a8d6ea"/>
<rect x="113.78" y="139.97" width="8.00" height="8.70" fill="#a8d6ea"/>
<rect x="121.60" y="140.49" width="8.00" height="8.70" fill="#a8d6ea"/>
<rect x="129.42" y="141.01" width="8.00" height="8.70" fill="#a8d6ea"/>
<rect x="137.24" y="141.53" width="8.00" height="8.70" fill="#a8d6ea"/>
<rect x="145.06" y="142.05" width="8.00" height="8.70" fill="#a8d6ea"/>
<rect x="98.84" y="133.35" width="8.00" height="8.70" fill="#a8d6ea"/>
<rect x="106.66" y="133.87" width="8.00" height="8.70" fill="#a8d6ea"/>
<rect x="114.48" y="134.39" width="8.00" height="8.70" fill="#a8d6ea"/>
<rect x="122.30" y="134.91" width="8.00" height="8.70" fill="#a8d6ea"/>
<rect x="130.12" y="135.43" width="8.00" height="8.70" fill="#a8d6ea"/>
<rect x="137.94" y="135.95" width="8.00" height="8.70" fill="#a8d6ea"/>
<rect x="21.34" y="122.57" width="8.00" height="8.70" fill="#bfe6f8"/>
<rect x="29.16" y="123.09" width="8.00" height="8.70" fill="#e0f7fe"/>
<rect x="36.98" y="123.61" width="8.00" height="8.70" fill="#e0f7fe"/>
<rect x="44.80" y="124.13" width="8.00" height="8.70" fill="#e0f7fe"/>
<rect x="52.62" y="124.65" width="8.00" height="8.70" fill="#e0f7fe"/>
<rect x="83.90" y="126.73" width="8.00" height="8.70" fill="#88cbea"/>
<rect x="91.72" y="127.25" width="8.00" height="8.70" fill="#4169e1"/>
<rect x="99.54" y="127.77" width="8.00" height="8.70" fill="#a8d6ea"/>
<rect x="107.36" y="128.29" width="8.00" height="8.70" fill="#4169e1"/>
<rect x="115.18" y="128.81" width="8.00" height="8.70" fill="#4169e1"/>
<rect x="123.00" y="129.33" width="8.00" height="8.70" fill="#a8d6ea"/>
<rect x="130.82" y="129.85" width="8.00" height="8.70" fill="#88cbea"/>
<rect x="138.64" y="130.37" width="8.00" height="8.70" fill="#bfe6f8"/>
<rect x="22.04" y="116.99" width="8.00" height="8.70" fill="#88cbea"/>
<rect x="29.86" y="117.51" width="8.00" height="8.70" fill="#e0f7fe"/>
<rect x="37.68" y="118.03" width="8.00" height="8.70" fill="#e0f7fe"/>
<rect x="45.50" y="118.55" width="8.00" height="8.70" fill="#e0f7fe"/>
<rect x="53.32" y="119.07" width="8.00" height="8.70" fill="#bfe6f8"/>
<rect x="84.60" y="121.15" width="8.00" height="8.70" fill="#88cbea"/>
<rect x="92.42" y="121.67" width="8.00" height="8.70" fill="#a8d6ea"/>
<rect x="100.24" y="122.19" width="8.00" height="8.70" fill="#4169e1"/>
<rect x="108.06" y="122.71" width="8.00" height="8.70" fill="#4169e1"/>
<rect x="115.88" y="123.23" width="8.00" height="8.70" fill="#4169e1"/>
<rect x="123.70" y="123.75" width="8.00" height="8.70" fill="#a8d6ea"/>
<rect x="131.52" y="124.27" width="8.00" height="8.70" fill="#bfe6f8"/>
<rect x="139.34" y="124.79" width="8.00" height="8.70" fill="#bfe6f8"/>
<rect x="22.74" y="111.41" width="8.00" height="8.70" fill="#88cbea"/>
<rect x="30.56" y="111.93" width="8.00" height="8.70" fill="#e0f7fe"/>
<rect x="38.38" y="112.45" width="8.00" height="8.70" fill="#88cbea"/>
<rect x="46.20" y="112.97" width="8.00" height="8.70" fill="#88cbea"/>
<rect x="54.02" y="113.49" width="8.00" height="8.70" fill="#88cbea"/>
<rect x="61.84" y="114.01" width="8.00" height="8.70" fill="#88cbea"/>
<rect x="69.66" y="114.53" width="8.00" height="8.70" fill="#88cbea"/>
<rect x="77.48" y="115.05" width="8.00" height="8.70" fill="#88cbea"/>
<rect x="85.30" y="115.57" width="8.00" height="8.70" fill="#88cbea"/>
<rect x="93.12" y="116.09" width="8.00" height="8.70" fill="#a8d6ea"/>
<rect x="100.94" y="116.61" width="8.00" height="8.70" fill="#4169e1"/>
<rect x="108.76" y="117.13" width="8.00" height="8.70" fill="#4169e1"/>
<rect x="116.58" y="117.65" width="8.00" height="8.70" fill="#4169e1"/>
<rect x="124.40" y="118.17" width="8.00" height="8.70" fill="#a8d6ea"/>
<rect x="132.22" y="118.69" width="8.00" height="8.70" fill="#a8d6ea"/>
<rect x="31.26" y="106.35" width="8.00" height="8.70" fill="#88cbea"/>
<rect x="39.08" y="106.87" width="8.00" height="8.70" fill="#88cbea"/>
<rect x="46.90" y="107.39" width="8.00" height="8.70" fill="#88cbea"/>
<rect x="54.72" y="107.91" width="8.00" height="8.70" fill="#88cbea"/>
<rect x="62.54" y="108.43" width="8.00" height="8.70" fill="#88cbea"/>
<rect x="70.36" y="108.95" width="8.00" height="8.70" fill="#88cbea"/>
<rect x="78.18" y="109.47" width="8.00" height="8.70" fill="#88cbea"/>
<rect x="86.00" y="109.99" width="8.00" height="8.70" fill="#88cbea"/>
<rect x="93.82" y="110.51" width="8.00" height="8.70" fill="#a8d6ea"/>
<rect x="101.64" y="111.03" width="8.00" height="8.70" fill="#4169e1"/>
<rect x="109.46" y="111.55" width="8.00" height="8.70" fill="#4169e1"/>
<rect x="117.28" y="112.07" width="8.00" height="8.70" fill="#4169e1"/>
<rect x="125.10" y="112.59" width="8.00" height="8.70" fill="#4169e1"/>
<rect x="132.92" y="113.11" width="8.00" height="8.70" fill="#4169e1"/>
<rect x="24.14" y="100.25" width="8.00" height="8.70" fill="#bfe6f8"/>
<rect x="31.96" y="100.77" width="8.00" height="8.70" fill="#bfe6f8"/>
<rect x="39.78" y="101.29" width="8.00" height="8.70" fill="#88cbea"/>
<rect x="47.60" y="101.81" width="8.00" height="8.70" fill="#88cbea"/>
<rect x="55.42" y="102.33" width="8.00" height="8.70" fill="#88cbea"/>
<rect x="63.24" y="102.85" width="8.00" height="8.70" fill="#88cbea"/>
<rect x="71.06" y="103.37" width="8.00" height="8.70" fill="#88cbea"/>
<rect x="78.88" y="103.89" width="8.00" height="8.70" fill="#88cbea"/>
<rect x="86.70" y="104.41" width="8.00" height="8.70" fill="#4169e1"/>
<rect x="94.52" y="104.93" width="8.00" height="8.70" fill="#0000cd"/>
<rect x="102.34" y="105.45" width="8.00" height="8.70" fill="#0000cd"/>
<rect x="110.16" y="105.97" width="8.00" height="8.70" fill="#4169e1"/>
<rect x="117.98" y="106.49" width="8.00" height="8.70" fill="#4169e1"/>
<rect x="125.80" y="107.01" width="8.00" height="8.70" fill="#4169e1"/>
<rect x="133.62" y="107.53" width="8.00" height="8.70" fill="#4169e1"/>
<rect x="40.48" y="95.71" width="8.00" height="8.70" fill="#e0f7fe"/>
<rect x="48.30" y="96.23" width="8.00" height="8.70" fill="#88cbea"/>
<rect x="56.12" y="96.75" width="8.00" height="8.70" fill="#88cbea"/>
<rect x="63.94" y="97.27" width="8.00" height="8.70" fill="#4169e1"/>
<rect x="87.40" y="98.83" width="8.00" height="8.70" fill="#4169e1"/>
<rect x="95.22" y="99.35" width="8.00" height="8.70" fill="#0000cd"/>
<rect x="103.04" y="99.87" width="8.00" height="8.70" fill="#0000cd"/>
<rect x="110.86" y="100.39" width="8.00" height="8.70" fill="#4169e1"/>
<rect x="118.68" y="100.91" width="8.00" height="8.70" fill="#a8d6ea"/>
<rect x="126.50" y="101.43" width="8.00" height="8.70" fill="#4169e1"/>
<rect x="134.32" y="101.95" width="8.00" height="8.70" fill="#a8d6ea"/>
<rect x="142.14" y="102.47" width="8.00" height="8.70" fill="#a8d6ea"/>
<rect x="49.00" y="90.65" width="8.00" height="8.70" fill="#bfe6f8"/>
<rect x="56.82" y="91.17" width="8.00" height="8.70" fill="#88cbea"/>
<rect x="88.10" y="93.25" width="8.00" height="8.70" fill="#a8d6ea"/>
<rect x="95.92" y="93.77" width="8.00" height="8.70" fill="#a8d6ea"/>
<rect x="103.74" y="94.29" width="8.00" height="8.70" fill="#a8d6ea"/>
<rect x="111.56" y="94.81" width="8.00" height="8.70" fill="#a8d6ea"/>
<rect x="119.38" y="95.33" width="8.00" height="8.70" fill="#a8d6ea"/>
<rect x="127.20" y="95.85" width="8.00" height="8.70" fill="#4169e1"/>
<rect x="135.02" y="96.37" width="8.00" height="8.70" fill="#4169e1"/>
<rect x="88.80" y="87.67" width="8.00" height="8.70" fill="#a8d6ea"/>
<rect x="96.62" y="88.19" width="8.00" height="8.70" fill="#a8d6ea"/>
<rect x="104.44" y="88.71" width="8.00" height="8.70" fill="#a8d6ea"/>
<rect x="112.26" y="89.23" width="8.00" height="8.70" fill="#a8d6ea"/>
<rect x="120.08" y="89.75" width="8.00" height="8.70" fill="#a8d6ea"/>
<rect x="127.90" y="90.27" width="8.00" height="8.70" fill="#a8d6ea"/>
<rect x="105.14" y="83.13" width="8.00" height="8.70" fill="#a8d6ea"/>
</g>
<use href="#coast"/>
<g shape-rendering="crispEdges">
<rect x="127.20" y="98.97" width="8.00" height="5.58" fill="#4169e1"/>
<rect x="135.02" y="99.49" width="8.00" height="5.58" fill="#4169e1"/>
<rect x="135.72" y="96.37" width="7.30" height="3.22" fill="#4169e1"/>
<rect x="63.94" y="100.39" width="8.00" height="5.58" fill="#4169e1"/>
<rect x="64.64" y="97.27" width="7.30" height="3.22" fill="#4169e1"/>
<rect x="87.40" y="101.95" width="8.00" height="5.58" fill="#4169e1"/>
<rect x="87.40" y="98.83" width="0.70" height="3.22" fill="#4169e1"/>
<rect x="95.22" y="102.47" width="8.00" height="5.58" fill="#0000cd"/>
<rect x="103.04" y="102.99" width="8.00" height="5.58" fill="#0000cd"/>
<rect x="110.86" y="103.51" width="8.00" height="5.58" fill="#4169e1"/>
<rect x="126.50" y="104.55" width="8.00" height="5.58" fill="#4169e1"/>
<rect x="86.70" y="107.53" width="8.00" height="5.58" fill="#4169e1"/>
<rect x="86.70" y="104.41" width="0.70" height="3.22" fill="#4169e1"/>
<rect x="94.52" y="108.05" width="8.00" height="5.58" fill="#0000cd"/>
<rect x="102.34" y="108.57" width="8.00" height="5.58" fill="#0000cd"/>
<rect x="110.16" y="109.09" width="8.00" height="5.58" fill="#4169e1"/>
<rect x="117.98" y="109.61" width="8.00" height="5.58" fill="#4169e1"/>
<rect x="125.80" y="110.13" width="8.00" height="5.58" fill="#4169e1"/>
<rect x="133.62" y="110.65" width="8.00" height="5.58" fill="#4169e1"/>
<rect x="101.64" y="114.15" width="8.00" height="5.58" fill="#4169e1"/>
<rect x="109.46" y="114.67" width="8.00" height="5.58" fill="#4169e1"/>
<rect x="117.28" y="115.19" width="8.00" height="5.58" fill="#4169e1"/>
<rect x="125.10" y="115.71" width="8.00" height="5.58" fill="#4169e1"/>
<rect x="132.92" y="116.23" width="8.00" height="5.58" fill="#4169e1"/>
<rect x="100.94" y="119.73" width="8.00" height="5.58" fill="#4169e1"/>
<rect x="108.76" y="120.25" width="8.00" height="5.58" fill="#4169e1"/>
<rect x="116.58" y="120.77" width="8.00" height="5.58" fill="#4169e1"/>
<rect x="100.24" y="125.31" width="8.00" height="5.58" fill="#4169e1"/>
<rect x="108.06" y="125.83" width="8.00" height="5.58" fill="#4169e1"/>
<rect x="115.88" y="126.35" width="8.00" height="5.58" fill="#4169e1"/>
<rect x="91.72" y="130.37" width="8.00" height="5.58" fill="#4169e1"/>
<rect x="107.36" y="131.41" width="8.00" height="5.58" fill="#4169e1"/>
<rect x="115.18" y="131.93" width="8.00" height="5.58" fill="#4169e1"/>
</g>
<circle cx="109.14" cy="87.48" r="0.85" fill="#0e2240"/>
<circle cx="92.80" cy="92.02" r="0.85" fill="#0e2240"/>
<circle cx="100.62" cy="92.54" r="0.85" fill="#0e2240"/>
<circle cx="108.44" cy="93.06" r="0.85" fill="#0e2240"/>
<circle cx="116.26" cy="93.58" r="0.85" fill="#0e2240"/>
<circle cx="124.08" cy="94.10" r="0.85" fill="#0e2240"/>
<circle cx="131.90" cy="94.62" r="0.85" fill="#0e2240"/>
<circle cx="92.10" cy="97.60" r="0.85" fill="#0e2240"/>
<circle cx="99.92" cy="98.12" r="0.85" fill="#0e2240"/>
<circle cx="107.74" cy="98.64" r="0.85" fill="#0e2240"/>
<circle cx="115.56" cy="99.16" r="0.85" fill="#0e2240"/>
<circle cx="123.38" cy="99.68" r="0.85" fill="#0e2240"/>
<circle cx="131.20" cy="100.20" r="0.85" fill="#0e2240"/>
<circle cx="139.02" cy="100.72" r="0.85" fill="#0e2240"/>
<circle cx="60.12" cy="101.10" r="0.85" fill="#0e2240"/>
<circle cx="67.94" cy="101.62" r="0.85" fill="#0e2240"/>
<circle cx="91.40" cy="103.18" r="0.85" fill="#0e2240"/>
<circle cx="99.22" cy="103.70" r="0.85" fill="#0e2240"/>
<circle cx="107.04" cy="104.22" r="0.85" fill="#0e2240"/>
<circle cx="114.86" cy="104.74" r="0.85" fill="#0e2240"/>
<circle cx="122.68" cy="105.26" r="0.85" fill="#0e2240"/>
<circle cx="130.50" cy="105.78" r="0.85" fill="#0e2240"/>
<circle cx="138.32" cy="106.30" r="0.85" fill="#0e2240"/>
<circle cx="146.14" cy="106.82" r="0.85" fill="#0e2240"/>
<circle cx="43.78" cy="105.64" r="0.85" fill="#0e2240"/>
<circle cx="51.60" cy="106.16" r="0.85" fill="#0e2240"/>
<circle cx="59.42" cy="106.68" r="0.85" fill="#0e2240"/>
<circle cx="67.24" cy="107.20" r="0.85" fill="#0e2240"/>
<circle cx="75.06" cy="107.72" r="0.85" fill="#0e2240"/>
<circle cx="82.88" cy="108.24" r="0.85" fill="#0e2240"/>
<circle cx="90.70" cy="108.76" r="0.85" fill="#0e2240"/>
<circle cx="98.52" cy="109.28" r="0.85" fill="#0e2240"/>
<circle cx="106.34" cy="109.80" r="0.85" fill="#0e2240"/>
<circle cx="114.16" cy="110.32" r="0.85" fill="#0e2240"/>
<circle cx="121.98" cy="110.84" r="0.85" fill="#0e2240"/>
<circle cx="129.80" cy="111.36" r="0.85" fill="#0e2240"/>
<circle cx="137.62" cy="111.88" r="0.85" fill="#0e2240"/>
<circle cx="43.08" cy="111.22" r="0.85" fill="#0e2240"/>
<circle cx="50.90" cy="111.74" r="0.85" fill="#0e2240"/>
<circle cx="66.54" cy="112.78" r="0.85" fill="#0e2240"/>
<circle cx="74.36" cy="113.30" r="0.85" fill="#0e2240"/>
<circle cx="82.18" cy="113.82" r="0.85" fill="#0e2240"/>
<circle cx="90.00" cy="114.34" r="0.85" fill="#0e2240"/>
<circle cx="97.82" cy="114.86" r="0.85" fill="#0e2240"/>
<circle cx="105.64" cy="115.38" r="0.85" fill="#0e2240"/>
<circle cx="113.46" cy="115.90" r="0.85" fill="#0e2240"/>
<circle cx="121.28" cy="116.42" r="0.85" fill="#0e2240"/>
<circle cx="129.10" cy="116.94" r="0.85" fill="#0e2240"/>
<circle cx="136.92" cy="117.46" r="0.85" fill="#0e2240"/>
<circle cx="50.20" cy="117.32" r="0.85" fill="#0e2240"/>
<circle cx="58.02" cy="117.84" r="0.85" fill="#0e2240"/>
<circle cx="73.66" cy="118.88" r="0.85" fill="#0e2240"/>
<circle cx="81.48" cy="119.40" r="0.85" fill="#0e2240"/>
<circle cx="97.12" cy="120.44" r="0.85" fill="#0e2240"/>
<circle cx="104.94" cy="120.96" r="0.85" fill="#0e2240"/>
<circle cx="112.76" cy="121.48" r="0.85" fill="#0e2240"/>
<circle cx="120.58" cy="122.00" r="0.85" fill="#0e2240"/>
<circle cx="128.40" cy="122.52" r="0.85" fill="#0e2240"/>
<circle cx="136.22" cy="123.04" r="0.85" fill="#0e2240"/>
<circle cx="88.60" cy="125.50" r="0.85" fill="#0e2240"/>
<circle cx="96.42" cy="126.02" r="0.85" fill="#0e2240"/>
<circle cx="104.24" cy="126.54" r="0.85" fill="#0e2240"/>
<circle cx="112.06" cy="127.06" r="0.85" fill="#0e2240"/>
<circle cx="119.88" cy="127.58" r="0.85" fill="#0e2240"/>
<circle cx="127.70" cy="128.10" r="0.85" fill="#0e2240"/>
<circle cx="87.90" cy="131.08" r="0.85" fill="#0e2240"/>
<circle cx="95.72" cy="131.60" r="0.85" fill="#0e2240"/>
<circle cx="103.54" cy="132.12" r="0.85" fill="#0e2240"/>
<circle cx="111.36" cy="132.64" r="0.85" fill="#0e2240"/>
<circle cx="119.18" cy="133.16" r="0.85" fill="#0e2240"/>
<circle cx="127.00" cy="133.68" r="0.85" fill="#0e2240"/>
<circle cx="102.84" cy="137.70" r="0.85" fill="#0e2240"/>
<circle cx="110.66" cy="138.22" r="0.85" fill="#0e2240"/>
<circle cx="118.48" cy="138.74" r="0.85" fill="#0e2240"/>
<circle cx="126.30" cy="139.26" r="0.85" fill="#0e2240"/>
<circle cx="134.12" cy="139.78" r="0.85" fill="#0e2240"/>
<circle cx="141.94" cy="140.30" r="0.85" fill="#0e2240"/>
<circle cx="109.96" cy="143.80" r="0.85" fill="#0e2240"/>
<circle cx="117.78" cy="144.32" r="0.85" fill="#0e2240"/>
<circle cx="125.60" cy="144.84" r="0.85" fill="#0e2240"/>
<circle cx="133.42" cy="145.36" r="0.85" fill="#0e2240"/>
<circle cx="141.24" cy="145.88" r="0.85" fill="#0e2240"/>
<circle cx="149.06" cy="146.40" r="0.85" fill="#0e2240"/>
<circle cx="117.08" cy="149.90" r="0.85" fill="#0e2240"/>
<circle cx="124.90" cy="150.42" r="0.85" fill="#0e2240"/>
<circle cx="132.72" cy="150.94" r="0.85" fill="#0e2240"/>
<circle cx="140.54" cy="151.46" r="0.85" fill="#0e2240"/>
<circle cx="148.36" cy="151.98" r="0.85" fill="#0e2240"/>
<circle cx="131.32" cy="162.10" r="0.85" fill="#0e2240"/>
<circle cx="138.44" cy="168.20" r="0.85" fill="#0e2240"/>
</g>
<rect x="0" y="0" width="216.8" height="195.5" fill="none" stroke="#8e8e8e" stroke-width="0.8"/>
<line x1="7.9" y1="195.5" x2="7.9" y2="197.1" stroke="#999" stroke-width="0.5"/>
<text x="7.9" y="203.5" font-size="3.7" text-anchor="middle" fill="#111">23.0</text>
<line x1="74.8" y1="195.5" x2="74.8" y2="197.1" stroke="#999" stroke-width="0.5"/>
<text x="74.8" y="203.5" font-size="3.7" text-anchor="middle" fill="#111">23.5</text>
<line x1="141.7" y1="195.5" x2="141.7" y2="197.1" stroke="#999" stroke-width="0.5"/>
<text x="141.7" y="203.5" font-size="3.7" text-anchor="middle" fill="#111">24.0</text>
<line x1="208.6" y1="195.5" x2="208.6" y2="197.1" stroke="#999" stroke-width="0.5"/>
<text x="208.6" y="203.5" font-size="3.7" text-anchor="middle" fill="#111">24.5</text>
<line x1="-1.6" y1="7.3" x2="0" y2="7.3" stroke="#999" stroke-width="0.5"/>
<text transform="translate(-4.8 7.3) rotate(-90)" font-size="3.7" text-anchor="middle" fill="#111">39.0</text>
<line x1="-1.6" y1="67.6" x2="0" y2="67.6" stroke="#999" stroke-width="0.5"/>
<text transform="translate(-4.8 67.6) rotate(-90)" font-size="3.7" text-anchor="middle" fill="#111">38.5</text>
<line x1="-1.6" y1="127.9" x2="0" y2="127.9" stroke="#999" stroke-width="0.5"/>
<text transform="translate(-4.8 127.9) rotate(-90)" font-size="3.7" text-anchor="middle" fill="#111">38.0</text>
<line x1="-1.6" y1="188.2" x2="0" y2="188.2" stroke="#999" stroke-width="0.5"/>
<text transform="translate(-4.8 188.2) rotate(-90)" font-size="3.7" text-anchor="middle" fill="#111">37.5</text>
<text x="103.2" y="-6.2" font-size="10.5" text-anchor="middle" fill="#1a1a1a" stroke="#1a1a1a" stroke-width="0.12">COR of FWI95 − SPEI</text>
<text x="25.0" y="21.5" font-size="14.15" fill="#111" stroke="#111" stroke-width="0.15">(2025−2049)</text>
<text x="149.7" y="21.5" font-size="14.15" fill="#111" stroke="#111" stroke-width="0.15">(RCP8.5)</text>
</g>
<text x="531.4" y="475.4" font-size="15.8" style="font-family:'Liberation Serif',serif" fill="#111" stroke="#111" stroke-width="0.25">(c)</text>
<g transform="translate(10.60 509.50) scale(0.9548 0.9529)">
<g clip-path="url(#fc)">
<g shape-rendering="crispEdges">
<rect x="134.44" y="163.85" width="8.00" height="8.70" fill="#bfe6f8"/>
<rect x="142.26" y="164.37" width="8.00" height="8.70" fill="#bfe6f8"/>
<rect x="127.32" y="157.75" width="8.00" height="8.70" fill="#a8d6ea"/>
<rect x="135.14" y="158.27" width="8.00" height="8.70" fill="#bfe6f8"/>
<rect x="142.96" y="158.79" width="8.00" height="8.70" fill="#bfe6f8"/>
<rect x="128.02" y="152.17" width="8.00" height="8.70" fill="#bfe6f8"/>
<rect x="135.84" y="152.69" width="8.00" height="8.70" fill="#a8d6ea"/>
<rect x="143.66" y="153.21" width="8.00" height="8.70" fill="#a8d6ea"/>
<rect x="120.90" y="146.07" width="8.00" height="8.70" fill="#a8d6ea"/>
<rect x="128.72" y="146.59" width="8.00" height="8.70" fill="#a8d6ea"/>
<rect x="136.54" y="147.11" width="8.00" height="8.70" fill="#a8d6ea"/>
<rect x="144.36" y="147.63" width="8.00" height="8.70" fill="#a8d6ea"/>
<rect x="113.78" y="139.97" width="8.00" height="8.70" fill="#bfe6f8"/>
<rect x="121.60" y="140.49" width="8.00" height="8.70" fill="#a8d6ea"/>
<rect x="129.42" y="141.01" width="8.00" height="8.70" fill="#a8d6ea"/>
<rect x="137.24" y="141.53" width="8.00" height="8.70" fill="#a8d6ea"/>
<rect x="145.06" y="142.05" width="8.00" height="8.70" fill="#a8d6ea"/>
<rect x="20.64" y="128.15" width="8.00" height="8.70" fill="#bfe6f8"/>
<rect x="28.46" y="128.67" width="8.00" height="8.70" fill="#4169e1"/>
<rect x="98.84" y="133.35" width="8.00" height="8.70" fill="#bfe6f8"/>
<rect x="106.66" y="133.87" width="8.00" height="8.70" fill="#bfe6f8"/>
<rect x="114.48" y="134.39" width="8.00" height="8.70" fill="#a8d6ea"/>
<rect x="122.30" y="134.91" width="8.00" height="8.70" fill="#a8d6ea"/>
<rect x="130.12" y="135.43" width="8.00" height="8.70" fill="#a8d6ea"/>
<rect x="137.94" y="135.95" width="8.00" height="8.70" fill="#a8d6ea"/>
<rect x="21.34" y="122.57" width="8.00" height="8.70" fill="#0000cd"/>
<rect x="29.16" y="123.09" width="8.00" height="8.70" fill="#0000cd"/>
<rect x="36.98" y="123.61" width="8.00" height="8.70" fill="#a8d6ea"/>
<rect x="44.80" y="124.13" width="8.00" height="8.70" fill="#a8d6ea"/>
<rect x="52.62" y="124.65" width="8.00" height="8.70" fill="#e0f7fe"/>
<rect x="91.72" y="127.25" width="8.00" height="8.70" fill="#a8d6ea"/>
<rect x="99.54" y="127.77" width="8.00" height="8.70" fill="#a8d6ea"/>
<rect x="107.36" y="128.29" width="8.00" height="8.70" fill="#a8d6ea"/>
<rect x="115.18" y="128.81" width="8.00" height="8.70" fill="#4169e1"/>
<rect x="123.00" y="129.33" width="8.00" height="8.70" fill="#a8d6ea"/>
<rect x="130.82" y="129.85" width="8.00" height="8.70" fill="#a8d6ea"/>
<rect x="138.64" y="130.37" width="8.00" height="8.70" fill="#a8d6ea"/>
<rect x="22.04" y="116.99" width="8.00" height="8.70" fill="#0000cd"/>
<rect x="29.86" y="117.51" width="8.00" height="8.70" fill="#4169e1"/>
<rect x="37.68" y="118.03" width="8.00" height="8.70" fill="#a8d6ea"/>
<rect x="45.50" y="118.55" width="8.00" height="8.70" fill="#a8d6ea"/>
<rect x="53.32" y="119.07" width="8.00" height="8.70" fill="#bfe6f8"/>
<rect x="61.14" y="119.59" width="8.00" height="8.70" fill="#bfe6f8"/>
<rect x="68.96" y="120.11" width="8.00" height="8.70" fill="#bfe6f8"/>
<rect x="76.78" y="120.63" width="8.00" height="8.70" fill="#bfe6f8"/>
<rect x="84.60" y="121.15" width="8.00" height="8.70" fill="#bfe6f8"/>
<rect x="92.42" y="121.67" width="8.00" height="8.70" fill="#bfe6f8"/>
<rect x="100.24" y="122.19" width="8.00" height="8.70" fill="#a8d6ea"/>
<rect x="108.06" y="122.71" width="8.00" height="8.70" fill="#a8d6ea"/>
<rect x="115.88" y="123.23" width="8.00" height="8.70" fill="#a8d6ea"/>
<rect x="123.70" y="123.75" width="8.00" height="8.70" fill="#a8d6ea"/>
<rect x="131.52" y="124.27" width="8.00" height="8.70" fill="#a8d6ea"/>
<rect x="139.34" y="124.79" width="8.00" height="8.70" fill="#a8d6ea"/>
<rect x="38.38" y="112.45" width="8.00" height="8.70" fill="#a8d6ea"/>
<rect x="46.20" y="112.97" width="8.00" height="8.70" fill="#a8d6ea"/>
<rect x="54.02" y="113.49" width="8.00" height="8.70" fill="#4169e1"/>
<rect x="61.84" y="114.01" width="8.00" height="8.70" fill="#a8d6ea"/>
<rect x="69.66" y="114.53" width="8.00" height="8.70" fill="#a8d6ea"/>
<rect x="77.48" y="115.05" width="8.00" height="8.70" fill="#a8d6ea"/>
<rect x="85.30" y="115.57" width="8.00" height="8.70" fill="#bfe6f8"/>
<rect x="93.12" y="116.09" width="8.00" height="8.70" fill="#bfe6f8"/>
<rect x="100.94" y="116.61" width="8.00" height="8.70" fill="#bfe6f8"/>
<rect x="108.76" y="117.13" width="8.00" height="8.70" fill="#a8d6ea"/>
<rect x="116.58" y="117.65" width="8.00" height="8.70" fill="#4169e1"/>
<rect x="124.40" y="118.17" width="8.00" height="8.70" fill="#a8d6ea"/>
<rect x="132.22" y="118.69" width="8.00" height="8.70" fill="#a8d6ea"/>
<rect x="31.26" y="106.35" width="8.00" height="8.70" fill="#a8d6ea"/>
<rect x="39.08" y="106.87" width="8.00" height="8.70" fill="#a8d6ea"/>
<rect x="46.90" y="107.39" width="8.00" height="8.70" fill="#4169e1"/>
<rect x="54.72" y="107.91" width="8.00" height="8.70" fill="#0000cd"/>
<rect x="62.54" y="108.43" width="8.00" height="8.70" fill="#4169e1"/>
<rect x="70.36" y="108.95" width="8.00" height="8.70" fill="#a8d6ea"/>
<rect x="78.18" y="109.47" width="8.00" height="8.70" fill="#a8d6ea"/>
<rect x="86.00" y="109.99" width="8.00" height="8.70" fill="#a8d6ea"/>
<rect x="93.82" y="110.51" width="8.00" height="8.70" fill="#a8d6ea"/>
<rect x="101.64" y="111.03" width="8.00" height="8.70" fill="#a8d6ea"/>
<rect x="109.46" y="111.55" width="8.00" height="8.70" fill="#a8d6ea"/>
<rect x="117.28" y="112.07" width="8.00" height="8.70" fill="#0000cd"/>
<rect x="125.10" y="112.59" width="8.00" height="8.70" fill="#4169e1"/>
<rect x="132.92" y="113.11" width="8.00" height="8.70" fill="#4169e1"/>
<rect x="24.14" y="100.25" width="8.00" height="8.70" fill="#a8d6ea"/>
<rect x="31.96" y="100.77" width="8.00" height="8.70" fill="#a8d6ea"/>
<rect x="39.78" y="101.29" width="8.00" height="8.70" fill="#4169e1"/>
<rect x="47.60" y="101.81" width="8.00" height="8.70" fill="#4169e1"/>
<rect x="55.42" y="102.33" width="8.00" height="8.70" fill="#4169e1"/>
<rect x="63.24" y="102.85" width="8.00" height="8.70" fill="#0000cd"/>
<rect x="71.06" y="103.37" width="8.00" height="8.70" fill="#4169e1"/>
<rect x="78.88" y="103.89" width="8.00" height="8.70" fill="#0000cd"/>
<rect x="86.70" y="104.41" width="8.00" height="8.70" fill="#0000cd"/>
<rect x="94.52" y="104.93" width="8.00" height="8.70" fill="#0000cd"/>
<rect x="102.34" y="105.45" width="8.00" height="8.70" fill="#0000cd"/>
<rect x="110.16" y="105.97" width="8.00" height="8.70" fill="#0000cd"/>
<rect x="117.98" y="106.49" width="8.00" height="8.70" fill="#0000cd"/>
<rect x="125.80" y="107.01" width="8.00" height="8.70" fill="#4169e1"/>
<rect x="133.62" y="107.53" width="8.00" height="8.70" fill="#4169e1"/>
<rect x="40.48" y="95.71" width="8.00" height="8.70" fill="#4169e1"/>
<rect x="48.30" y="96.23" width="8.00" height="8.70" fill="#bfe6f8"/>
<rect x="56.12" y="96.75" width="8.00" height="8.70" fill="#4169e1"/>
<rect x="63.94" y="97.27" width="8.00" height="8.70" fill="#0000cd"/>
<rect x="87.40" y="98.83" width="8.00" height="8.70" fill="#0000cd"/>
<rect x="95.22" y="99.35" width="8.00" height="8.70" fill="#0000cd"/>
<rect x="103.04" y="99.87" width="8.00" height="8.70" fill="#0000cd"/>
<rect x="110.86" y="100.39" width="8.00" height="8.70" fill="#0000cd"/>
<rect x="118.68" y="100.91" width="8.00" height="8.70" fill="#0000cd"/>
<rect x="126.50" y="101.43" width="8.00" height="8.70" fill="#0000cd"/>
<rect x="134.32" y="101.95" width="8.00" height="8.70" fill="#4169e1"/>
<rect x="142.14" y="102.47" width="8.00" height="8.70" fill="#a8d6ea"/>
<rect x="49.00" y="90.65" width="8.00" height="8.70" fill="#4169e1"/>
<rect x="56.82" y="91.17" width="8.00" height="8.70" fill="#4169e1"/>
<rect x="88.10" y="93.25" width="8.00" height="8.70" fill="#0000cd"/>
<rect x="95.92" y="93.77" width="8.00" height="8.70" fill="#4169e1"/>
<rect x="103.74" y="94.29" width="8.00" height="8.70" fill="#bfe6f8"/>
<rect x="111.56" y="94.81" width="8.00" height="8.70" fill="#bfe6f8"/>
<rect x="119.38" y="95.33" width="8.00" height="8.70" fill="#bfe6f8"/>
<rect x="127.20" y="95.85" width="8.00" height="8.70" fill="#4169e1"/>
<rect x="135.02" y="96.37" width="8.00" height="8.70" fill="#4169e1"/>
<rect x="88.80" y="87.67" width="8.00" height="8.70" fill="#0000cd"/>
<rect x="96.62" y="88.19" width="8.00" height="8.70" fill="#0000cd"/>
<rect x="104.44" y="88.71" width="8.00" height="8.70" fill="#4169e1"/>
<rect x="112.26" y="89.23" width="8.00" height="8.70" fill="#a8d6ea"/>
<rect x="120.08" y="89.75" width="8.00" height="8.70" fill="#a8d6ea"/>
<rect x="127.90" y="90.27" width="8.00" height="8.70" fill="#a8d6ea"/>
<rect x="105.14" y="83.13" width="8.00" height="8.70" fill="#a8d6ea"/>
</g>
<use href="#coast"/>
<g shape-rendering="crispEdges">
<rect x="88.80" y="90.79" width="8.00" height="5.58" fill="#0000cd"/>
<rect x="89.50" y="87.67" width="7.30" height="3.22" fill="#0000cd"/>
<rect x="88.80" y="87.67" width="0.70" height="3.22" fill="#0000cd"/>
<rect x="96.62" y="91.31" width="8.00" height="5.58" fill="#0000cd"/>
<rect x="97.32" y="88.19" width="7.30" height="3.22" fill="#0000cd"/>
<rect x="96.62" y="88.19" width="0.70" height="3.22" fill="#0000cd"/>
<rect x="104.44" y="91.83" width="8.00" height="5.58" fill="#4169e1"/>
<rect x="104.44" y="88.71" width="0.70" height="3.22" fill="#4169e1"/>
<rect x="49.00" y="93.77" width="8.00" height="5.58" fill="#4169e1"/>
<rect x="49.70" y="90.65" width="7.30" height="3.22" fill="#4169e1"/>
<rect x="49.00" y="90.65" width="0.70" height="3.22" fill="#4169e1"/>
<rect x="56.82" y="94.29" width="8.00" height="5.58" fill="#4169e1"/>
<rect x="57.52" y="91.17" width="7.30" height="3.22" fill="#4169e1"/>
<rect x="56.82" y="91.17" width="0.70" height="3.22" fill="#4169e1"/>
<rect x="88.10" y="96.37" width="8.00" height="5.58" fill="#0000cd"/>
<rect x="88.10" y="93.25" width="0.70" height="3.22" fill="#0000cd"/>
<rect x="95.92" y="96.89" width="8.00" height="5.58" fill="#4169e1"/>
<rect x="127.20" y="98.97" width="8.00" height="5.58" fill="#4169e1"/>
<rect x="135.02" y="99.49" width="8.00" height="5.58" fill="#4169e1"/>
<rect x="135.72" y="96.37" width="7.30" height="3.22" fill="#4169e1"/>
<rect x="40.48" y="98.83" width="8.00" height="5.58" fill="#4169e1"/>
<rect x="41.18" y="95.71" width="7.30" height="3.22" fill="#4169e1"/>
<rect x="40.48" y="95.71" width="0.70" height="3.22" fill="#4169e1"/>
<rect x="56.12" y="99.87" width="8.00" height="5.58" fill="#4169e1"/>
<rect x="63.94" y="100.39" width="8.00" height="5.58" fill="#0000cd"/>
<rect x="64.64" y="97.27" width="7.30" height="3.22" fill="#0000cd"/>
<rect x="87.40" y="101.95" width="8.00" height="5.58" fill="#0000cd"/>
<rect x="87.40" y="98.83" width="0.70" height="3.22" fill="#0000cd"/>
<rect x="95.22" y="102.47" width="8.00" height="5.58" fill="#0000cd"/>
<rect x="103.04" y="102.99" width="8.00" height="5.58" fill="#0000cd"/>
<rect x="110.86" y="103.51" width="8.00" height="5.58" fill="#0000cd"/>
<rect x="118.68" y="104.03" width="8.00" height="5.58" fill="#0000cd"/>
<rect x="126.50" y="104.55" width="8.00" height="5.58" fill="#0000cd"/>
<rect x="134.32" y="105.07" width="8.00" height="5.58" fill="#4169e1"/>
<rect x="39.78" y="104.41" width="8.00" height="5.58" fill="#4169e1"/>
<rect x="39.78" y="101.29" width="0.70" height="3.22" fill="#4169e1"/>
<rect x="47.60" y="104.93" width="8.00" height="5.58" fill="#4169e1"/>
<rect x="55.42" y="105.45" width="8.00" height="5.58" fill="#4169e1"/>
<rect x="63.24" y="105.97" width="8.00" height="5.58" fill="#0000cd"/>
<rect x="71.06" y="106.49" width="8.00" height="5.58" fill="#4169e1"/>
<rect x="71.76" y="103.37" width="7.30" height="3.22" fill="#4169e1"/>
<rect x="78.88" y="107.01" width="8.00" height="5.58" fill="#0000cd"/>
<rect x="79.58" y="103.89" width="7.30" height="3.22" fill="#0000cd"/>
<rect x="78.88" y="103.89" width="0.70" height="3.22" fill="#0000cd"/>
<rect x="86.70" y="107.53" width="8.00" height="5.58" fill="#0000cd"/>
<rect x="86.70" y="104.41" width="0.70" height="3.22" fill="#0000cd"/>
<rect x="94.52" y="108.05" width="8.00" height="5.58" fill="#0000cd"/>
<rect x="102.34" y="108.57" width="8.00" height="5.58" fill="#0000cd"/>
<rect x="110.16" y="109.09" width="8.00" height="5.58" fill="#0000cd"/>
<rect x="117.98" y="109.61" width="8.00" height="5.58" fill="#0000cd"/>
<rect x="125.80" y="110.13" width="8.00" height="5.58" fill="#4169e1"/>
<rect x="133.62" y="110.65" width="8.00" height="5.58" fill="#4169e1"/>
<rect x="46.90" y="110.51" width="8.00" height="5.58" fill="#4169e1"/>
<rect x="54.72" y="111.03" width="8.00" height="5.58" fill="#0000cd"/>
<rect x="62.54" y="111.55" width="8.00" height="5.58" fill="#4169e1"/>
<rect x="117.28" y="115.19" width="8.00" height="5.58" fill="#0000cd"/>
<rect x="125.10" y="115.71" width="8.00" height="5.58" fill="#4169e1"/>
<rect x="132.92" y="116.23" width="8.00" height="5.58" fill="#4169e1"/>
<rect x="54.02" y="116.61" width="8.00" height="5.58" fill="#4169e1"/>
<rect x="116.58" y="120.77" width="8.00" height="5.58" fill="#4169e1"/>
<rect x="22.04" y="120.11" width="8.00" height="5.58" fill="#0000cd"/>
<rect x="22.74" y="116.99" width="7.30" height="3.22" fill="#0000cd"/>
<rect x="22.04" y="116.99" width="0.70" height="3.22" fill="#0000cd"/>
<rect x="29.86" y="120.63" width="8.00" height="5.58" fill="#4169e1"/>
<rect x="30.56" y="117.51" width="7.30" height="3.22" fill="#4169e1"/>
<rect x="29.86" y="117.51" width="0.70" height="3.22" fill="#4169e1"/>
<rect x="21.34" y="125.69" width="8.00" height="5.58" fill="#0000cd"/>
<rect x="21.34" y="122.57" width="0.70" height="3.22" fill="#0000cd"/>
<rect x="29.16" y="126.21" width="8.00" height="5.58" fill="#0000cd"/>
<rect x="115.18" y="131.93" width="8.00" height="5.58" fill="#4169e1"/>
<rect x="28.46" y="131.79" width="8.00" height="5.58" fill="#4169e1"/>
</g>
<circle cx="109.14" cy="87.48" r="0.85" fill="#0e2240"/>
<circle cx="92.80" cy="92.02" r="0.85" fill="#0e2240"/>
<circle cx="100.62" cy="92.54" r="0.85" fill="#0e2240"/>
<circle cx="108.44" cy="93.06" r="0.85" fill="#0e2240"/>
<circle cx="116.26" cy="93.58" r="0.85" fill="#0e2240"/>
<circle cx="131.90" cy="94.62" r="0.85" fill="#0e2240"/>
<circle cx="53.00" cy="95.00" r="0.85" fill="#0e2240"/>
<circle cx="60.82" cy="95.52" r="0.85" fill="#0e2240"/>
<circle cx="92.10" cy="97.60" r="0.85" fill="#0e2240"/>
<circle cx="99.92" cy="98.12" r="0.85" fill="#0e2240"/>
<circle cx="107.74" cy="98.64" r="0.85" fill="#0e2240"/>
<circle cx="115.56" cy="99.16" r="0.85" fill="#0e2240"/>
<circle cx="123.38" cy="99.68" r="0.85" fill="#0e2240"/>
<circle cx="131.20" cy="100.20" r="0.85" fill="#0e2240"/>
<circle cx="139.02" cy="100.72" r="0.85" fill="#0e2240"/>
<circle cx="44.48" cy="100.06" r="0.85" fill="#0e2240"/>
<circle cx="52.30" cy="100.58" r="0.85" fill="#0e2240"/>
<circle cx="60.12" cy="101.10" r="0.85" fill="#0e2240"/>
<circle cx="67.94" cy="101.62" r="0.85" fill="#0e2240"/>
<circle cx="91.40" cy="103.18" r="0.85" fill="#0e2240"/>
<circle cx="99.22" cy="103.70" r="0.85" fill="#0e2240"/>
<circle cx="107.04" cy="104.22" r="0.85" fill="#0e2240"/>
<circle cx="114.86" cy="104.74" r="0.85" fill="#0e2240"/>
<circle cx="122.68" cy="105.26" r="0.85" fill="#0e2240"/>
<circle cx="130.50" cy="105.78" r="0.85" fill="#0e2240"/>
<circle cx="138.32" cy="106.30" r="0.85" fill="#0e2240"/>
<circle cx="146.14" cy="106.82" r="0.85" fill="#0e2240"/>
<circle cx="28.14" cy="104.60" r="0.85" fill="#0e2240"/>
<circle cx="35.96" cy="105.12" r="0.85" fill="#0e2240"/>
<circle cx="43.78" cy="105.64" r="0.85" fill="#0e2240"/>
<circle cx="51.60" cy="106.16" r="0.85" fill="#0e2240"/>
<circle cx="59.42" cy="106.68" r="0.85" fill="#0e2240"/>
<circle cx="67.24" cy="107.20" r="0.85" fill="#0e2240"/>
<circle cx="75.06" cy="107.72" r="0.85" fill="#0e2240"/>
<circle cx="82.88" cy="108.24" r="0.85" fill="#0e2240"/>
<circle cx="90.70" cy="108.76" r="0.85" fill="#0e2240"/>
<circle cx="98.52" cy="109.28" r="0.85" fill="#0e2240"/>
<circle cx="106.34" cy="109.80" r="0.85" fill="#0e2240"/>
<circle cx="114.16" cy="110.32" r="0.85" fill="#0e2240"/>
<circle cx="121.98" cy="110.84" r="0.85" fill="#0e2240"/>
<circle cx="129.80" cy="111.36" r="0.85" fill="#0e2240"/>
<circle cx="137.62" cy="111.88" r="0.85" fill="#0e2240"/>
<circle cx="35.26" cy="110.70" r="0.85" fill="#0e2240"/>
<circle cx="43.08" cy="111.22" r="0.85" fill="#0e2240"/>
<circle cx="50.90" cy="111.74" r="0.85" fill="#0e2240"/>
<circle cx="58.72" cy="112.26" r="0.85" fill="#0e2240"/>
<circle cx="66.54" cy="112.78" r="0.85" fill="#0e2240"/>
<circle cx="74.36" cy="113.30" r="0.85" fill="#0e2240"/>
<circle cx="82.18" cy="113.82" r="0.85" fill="#0e2240"/>
<circle cx="90.00" cy="114.34" r="0.85" fill="#0e2240"/>
<circle cx="97.82" cy="114.86" r="0.85" fill="#0e2240"/>
<circle cx="105.64" cy="115.38" r="0.85" fill="#0e2240"/>
<circle cx="113.46" cy="115.90" r="0.85" fill="#0e2240"/>
<circle cx="121.28" cy="116.42" r="0.85" fill="#0e2240"/>
<circle cx="129.10" cy="116.94" r="0.85" fill="#0e2240"/>
<circle cx="136.92" cy="117.46" r="0.85" fill="#0e2240"/>
<circle cx="42.38" cy="116.80" r="0.85" fill="#0e2240"/>
<circle cx="50.20" cy="117.32" r="0.85" fill="#0e2240"/>
<circle cx="58.02" cy="117.84" r="0.85" fill="#0e2240"/>
<circle cx="65.84" cy="118.36" r="0.85" fill="#0e2240"/>
<circle cx="73.66" cy="118.88" r="0.85" fill="#0e2240"/>
<circle cx="112.76" cy="121.48" r="0.85" fill="#0e2240"/>
<circle cx="120.58" cy="122.00" r="0.85" fill="#0e2240"/>
<circle cx="128.40" cy="122.52" r="0.85" fill="#0e2240"/>
<circle cx="136.22" cy="123.04" r="0.85" fill="#0e2240"/>
<circle cx="26.04" cy="121.34" r="0.85" fill="#0e2240"/>
<circle cx="33.86" cy="121.86" r="0.85" fill="#0e2240"/>
<circle cx="41.68" cy="122.38" r="0.85" fill="#0e2240"/>
<circle cx="49.50" cy="122.90" r="0.85" fill="#0e2240"/>
<circle cx="104.24" cy="126.54" r="0.85" fill="#0e2240"/>
<circle cx="112.06" cy="127.06" r="0.85" fill="#0e2240"/>
<circle cx="119.88" cy="127.58" r="0.85" fill="#0e2240"/>
<circle cx="127.70" cy="128.10" r="0.85" fill="#0e2240"/>
<circle cx="135.52" cy="128.62" r="0.85" fill="#0e2240"/>
<circle cx="143.34" cy="129.14" r="0.85" fill="#0e2240"/>
<circle cx="25.34" cy="126.92" r="0.85" fill="#0e2240"/>
<circle cx="33.16" cy="127.44" r="0.85" fill="#0e2240"/>
<circle cx="40.98" cy="127.96" r="0.85" fill="#0e2240"/>
<circle cx="48.80" cy="128.48" r="0.85" fill="#0e2240"/>
<circle cx="95.72" cy="131.60" r="0.85" fill="#0e2240"/>
<circle cx="111.36" cy="132.64" r="0.85" fill="#0e2240"/>
<circle cx="119.18" cy="133.16" r="0.85" fill="#0e2240"/>
<circle cx="127.00" cy="133.68" r="0.85" fill="#0e2240"/>
<circle cx="134.82" cy="134.20" r="0.85" fill="#0e2240"/>
<circle cx="24.64" cy="132.50" r="0.85" fill="#0e2240"/>
<circle cx="32.46" cy="133.02" r="0.85" fill="#0e2240"/>
<circle cx="118.48" cy="138.74" r="0.85" fill="#0e2240"/>
<circle cx="126.30" cy="139.26" r="0.85" fill="#0e2240"/>
<circle cx="134.12" cy="139.78" r="0.85" fill="#0e2240"/>
<circle cx="141.94" cy="140.30" r="0.85" fill="#0e2240"/>
<circle cx="125.60" cy="144.84" r="0.85" fill="#0e2240"/>
<circle cx="133.42" cy="145.36" r="0.85" fill="#0e2240"/>
<circle cx="141.24" cy="145.88" r="0.85" fill="#0e2240"/>
<circle cx="149.06" cy="146.40" r="0.85" fill="#0e2240"/>
<circle cx="132.72" cy="150.94" r="0.85" fill="#0e2240"/>
<circle cx="140.54" cy="151.46" r="0.85" fill="#0e2240"/>
<circle cx="148.36" cy="151.98" r="0.85" fill="#0e2240"/>
<circle cx="139.84" cy="157.04" r="0.85" fill="#0e2240"/>
<circle cx="147.66" cy="157.56" r="0.85" fill="#0e2240"/>
<circle cx="131.32" cy="162.10" r="0.85" fill="#0e2240"/>
</g>
<rect x="0" y="0" width="216.8" height="195.5" fill="none" stroke="#8e8e8e" stroke-width="0.8"/>
<line x1="7.9" y1="195.5" x2="7.9" y2="197.1" stroke="#999" stroke-width="0.5"/>
<text x="7.9" y="203.5" font-size="3.7" text-anchor="middle" fill="#111">23.0</text>
<line x1="74.8" y1="195.5" x2="74.8" y2="197.1" stroke="#999" stroke-width="0.5"/>
<text x="74.8" y="203.5" font-size="3.7" text-anchor="middle" fill="#111">23.5</text>
<line x1="141.7" y1="195.5" x2="141.7" y2="197.1" stroke="#999" stroke-width="0.5"/>
<text x="141.7" y="203.5" font-size="3.7" text-anchor="middle" fill="#111">24.0</text>
<line x1="208.6" y1="195.5" x2="208.6" y2="197.1" stroke="#999" stroke-width="0.5"/>
<text x="208.6" y="203.5" font-size="3.7" text-anchor="middle" fill="#111">24.5</text>
<line x1="-1.6" y1="7.3" x2="0" y2="7.3" stroke="#999" stroke-width="0.5"/>
<text transform="translate(-4.8 7.3) rotate(-90)" font-size="3.7" text-anchor="middle" fill="#111">39.0</text>
<line x1="-1.6" y1="67.6" x2="0" y2="67.6" stroke="#999" stroke-width="0.5"/>
<text transform="translate(-4.8 67.6) rotate(-90)" font-size="3.7" text-anchor="middle" fill="#111">38.5</text>
<line x1="-1.6" y1="127.9" x2="0" y2="127.9" stroke="#999" stroke-width="0.5"/>
<text transform="translate(-4.8 127.9) rotate(-90)" font-size="3.7" text-anchor="middle" fill="#111">38.0</text>
<line x1="-1.6" y1="188.2" x2="0" y2="188.2" stroke="#999" stroke-width="0.5"/>
<text transform="translate(-4.8 188.2) rotate(-90)" font-size="3.7" text-anchor="middle" fill="#111">37.5</text>
<text x="103.2" y="-7.0" font-size="10.5" text-anchor="middle" fill="#1a1a1a" stroke="#1a1a1a" stroke-width="0.12">COR of FWI95 − SPEI</text>
<text x="25.0" y="21.5" font-size="14.15" fill="#111" stroke="#111" stroke-width="0.15">(2075−2099)</text>
<text x="149.7" y="21.5" font-size="14.15" fill="#111" stroke="#111" stroke-width="0.15">(RCP4.5)</text>
</g>
<text x="220.8" y="718.3" font-size="15.8" style="font-family:'Liberation Serif',serif" fill="#111" stroke="#111" stroke-width="0.25">(d)</text>
<g transform="translate(319.40 510.30) scale(0.9419 0.9473)">
<g clip-path="url(#fc)">
<g shape-rendering="crispEdges">
<rect x="134.44" y="163.85" width="8.00" height="8.70" fill="#88cbea"/>
<rect x="142.26" y="164.37" width="8.00" height="8.70" fill="#88cbea"/>
<rect x="127.32" y="157.75" width="8.00" height="8.70" fill="#88cbea"/>
<rect x="135.14" y="158.27" width="8.00" height="8.70" fill="#88cbea"/>
<rect x="142.96" y="158.79" width="8.00" height="8.70" fill="#e0f7fe"/>
<rect x="128.02" y="152.17" width="8.00" height="8.70" fill="#88cbea"/>
<rect x="135.84" y="152.69" width="8.00" height="8.70" fill="#bfe6f8"/>
<rect x="143.66" y="153.21" width="8.00" height="8.70" fill="#e0f7fe"/>
<rect x="113.08" y="145.55" width="8.00" height="8.70" fill="#4169e1"/>
<rect x="120.90" y="146.07" width="8.00" height="8.70" fill="#88cbea"/>
<rect x="128.72" y="146.59" width="8.00" height="8.70" fill="#88cbea"/>
<rect x="136.54" y="147.11" width="8.00" height="8.70" fill="#bfe6f8"/>
<rect x="144.36" y="147.63" width="8.00" height="8.70" fill="#e0f7fe"/>
<rect x="105.96" y="139.45" width="8.00" height="8.70" fill="#88cbea"/>
<rect x="113.78" y="139.97" width="8.00" height="8.70" fill="#88cbea"/>
<rect x="121.60" y="140.49" width="8.00" height="8.70" fill="#88cbea"/>
<rect x="129.42" y="141.01" width="8.00" height="8.70" fill="#88cbea"/>
<rect x="137.24" y="141.53" width="8.00" height="8.70" fill="#bfe6f8"/>
<rect x="145.06" y="142.05" width="8.00" height="8.70" fill="#e0f7fe"/>
<rect x="20.64" y="128.15" width="8.00" height="8.70" fill="#88cbea"/>
<rect x="28.46" y="128.67" width="8.00" height="8.70" fill="#88cbea"/>
<rect x="98.84" y="133.35" width="8.00" height="8.70" fill="#88cbea"/>
<rect x="106.66" y="133.87" width="8.00" height="8.70" fill="#88cbea"/>
<rect x="114.48" y="134.39" width="8.00" height="8.70" fill="#88cbea"/>
<rect x="122.30" y="134.91" width="8.00" height="8.70" fill="#88cbea"/>
<rect x="130.12" y="135.43" width="8.00" height="8.70" fill="#88cbea"/>
<rect x="137.94" y="135.95" width="8.00" height="8.70" fill="#e0f7fe"/>
<rect x="21.34" y="122.57" width="8.00" height="8.70" fill="#bfe6f8"/>
<rect x="29.16" y="123.09" width="8.00" height="8.70" fill="#88cbea"/>
<rect x="36.98" y="123.61" width="8.00" height="8.70" fill="#88cbea"/>
<rect x="44.80" y="124.13" width="8.00" height="8.70" fill="#88cbea"/>
<rect x="83.90" y="126.73" width="8.00" height="8.70" fill="#88cbea"/>
<rect x="91.72" y="127.25" width="8.00" height="8.70" fill="#4169e1"/>
<rect x="99.54" y="127.77" width="8.00" height="8.70" fill="#88cbea"/>
<rect x="107.36" y="128.29" width="8.00" height="8.70" fill="#88cbea"/>
<rect x="115.18" y="128.81" width="8.00" height="8.70" fill="#88cbea"/>
<rect x="123.00" y="129.33" width="8.00" height="8.70" fill="#88cbea"/>
<rect x="130.82" y="129.85" width="8.00" height="8.70" fill="#bfe6f8"/>
<rect x="138.64" y="130.37" width="8.00" height="8.70" fill="#e0f7fe"/>
<rect x="22.04" y="116.99" width="8.00" height="8.70" fill="#88cbea"/>
<rect x="29.86" y="117.51" width="8.00" height="8.70" fill="#88cbea"/>
<rect x="37.68" y="118.03" width="8.00" height="8.70" fill="#88cbea"/>
<rect x="45.50" y="118.55" width="8.00" height="8.70" fill="#e0f7fe"/>
<rect x="53.32" y="119.07" width="8.00" height="8.70" fill="#e0f7fe"/>
<rect x="61.14" y="119.59" width="8.00" height="8.70" fill="#88cbea"/>
<rect x="68.96" y="120.11" width="8.00" height="8.70" fill="#88cbea"/>
<rect x="76.78" y="120.63" width="8.00" height="8.70" fill="#88cbea"/>
<rect x="84.60" y="121.15" width="8.00" height="8.70" fill="#0000cd"/>
<rect x="92.42" y="121.67" width="8.00" height="8.70" fill="#88cbea"/>
<rect x="100.24" y="122.19" width="8.00" height="8.70" fill="#88cbea"/>
<rect x="108.06" y="122.71" width="8.00" height="8.70" fill="#88cbea"/>
<rect x="115.88" y="123.23" width="8.00" height="8.70" fill="#88cbea"/>
<rect x="123.70" y="123.75" width="8.00" height="8.70" fill="#e0f7fe"/>
<rect x="131.52" y="124.27" width="8.00" height="8.70" fill="#e0f7fe"/>
<rect x="139.34" y="124.79" width="8.00" height="8.70" fill="#e0f7fe"/>
<rect x="38.38" y="112.45" width="8.00" height="8.70" fill="#88cbea"/>
<rect x="46.20" y="112.97" width="8.00" height="8.70" fill="#88cbea"/>
<rect x="54.02" y="113.49" width="8.00" height="8.70" fill="#88cbea"/>
<rect x="61.84" y="114.01" width="8.00" height="8.70" fill="#88cbea"/>
<rect x="69.66" y="114.53" width="8.00" height="8.70" fill="#88cbea"/>
<rect x="77.48" y="115.05" width="8.00" height="8.70" fill="#88cbea"/>
<rect x="85.30" y="115.57" width="8.00" height="8.70" fill="#88cbea"/>
<rect x="93.12" y="116.09" width="8.00" height="8.70" fill="#88cbea"/>
<rect x="100.94" y="116.61" width="8.00" height="8.70" fill="#88cbea"/>
<rect x="108.76" y="117.13" width="8.00" height="8.70" fill="#e0f7fe"/>
<rect x="116.58" y="117.65" width="8.00" height="8.70" fill="#88cbea"/>
<rect x="124.40" y="118.17" width="8.00" height="8.70" fill="#88cbea"/>
<rect x="132.22" y="118.69" width="8.00" height="8.70" fill="#bfe6f8"/>
<rect x="39.08" y="106.87" width="8.00" height="8.70" fill="#88cbea"/>
<rect x="46.90" y="107.39" width="8.00" height="8.70" fill="#88cbea"/>
<rect x="54.72" y="107.91" width="8.00" height="8.70" fill="#88cbea"/>
<rect x="62.54" y="108.43" width="8.00" height="8.70" fill="#88cbea"/>
<rect x="70.36" y="108.95" width="8.00" height="8.70" fill="#88cbea"/>
<rect x="78.18" y="109.47" width="8.00" height="8.70" fill="#e0f7fe"/>
<rect x="86.00" y="109.99" width="8.00" height="8.70" fill="#e0f7fe"/>
<rect x="93.82" y="110.51" width="8.00" height="8.70" fill="#88cbea"/>
<rect x="101.64" y="111.03" width="8.00" height="8.70" fill="#88cbea"/>
<rect x="109.46" y="111.55" width="8.00" height="8.70" fill="#88cbea"/>
<rect x="117.28" y="112.07" width="8.00" height="8.70" fill="#88cbea"/>
<rect x="125.10" y="112.59" width="8.00" height="8.70" fill="#88cbea"/>
<rect x="132.92" y="113.11" width="8.00" height="8.70" fill="#88cbea"/>
<rect x="24.14" y="100.25" width="8.00" height="8.70" fill="#88cbea"/>
<rect x="31.96" y="100.77" width="8.00" height="8.70" fill="#88cbea"/>
<rect x="39.78" y="101.29" width="8.00" height="8.70" fill="#88cbea"/>
<rect x="47.60" y="101.81" width="8.00" height="8.70" fill="#88cbea"/>
<rect x="55.42" y="102.33" width="8.00" height="8.70" fill="#88cbea"/>
<rect x="63.24" y="102.85" width="8.00" height="8.70" fill="#88cbea"/>
<rect x="71.06" y="103.37" width="8.00" height="8.70" fill="#88cbea"/>
<rect x="78.88" y="103.89" width="8.00" height="8.70" fill="#88cbea"/>
<rect x="86.70" y="104.41" width="8.00" height="8.70" fill="#88cbea"/>
<rect x="94.52" y="104.93" width="8.00" height="8.70" fill="#88cbea"/>
<rect x="102.34" y="105.45" width="8.00" height="8.70" fill="#88cbea"/>
<rect x="110.16" y="105.97" width="8.00" height="8.70" fill="#88cbea"/>
<rect x="117.98" y="106.49" width="8.00" height="8.70" fill="#88cbea"/>
<rect x="125.80" y="107.01" width="8.00" height="8.70" fill="#88cbea"/>
<rect x="133.62" y="107.53" width="8.00" height="8.70" fill="#88cbea"/>
<rect x="40.48" y="95.71" width="8.00" height="8.70" fill="#4169e1"/>
<rect x="48.30" y="96.23" width="8.00" height="8.70" fill="#88cbea"/>
<rect x="56.12" y="96.75" width="8.00" height="8.70" fill="#88cbea"/>
<rect x="63.94" y="97.27" width="8.00" height="8.70" fill="#88cbea"/>
<rect x="87.40" y="98.83" width="8.00" height="8.70" fill="#88cbea"/>
<rect x="95.22" y="99.35" width="8.00" height="8.70" fill="#88cbea"/>
<rect x="103.04" y="99.87" width="8.00" height="8.70" fill="#88cbea"/>
<rect x="110.86" y="100.39" width="8.00" height="8.70" fill="#88cbea"/>
<rect x="118.68" y="100.91" width="8.00" height="8.70" fill="#88cbea"/>
<rect x="126.50" y="101.43" width="8.00" height="8.70" fill="#88cbea"/>
<rect x="134.32" y="101.95" width="8.00" height="8.70" fill="#bfe6f8"/>
<rect x="142.14" y="102.47" width="8.00" height="8.70" fill="#bfe6f8"/>
<rect x="49.00" y="90.65" width="8.00" height="8.70" fill="#88cbea"/>
<rect x="56.82" y="91.17" width="8.00" height="8.70" fill="#88cbea"/>
<rect x="88.10" y="93.25" width="8.00" height="8.70" fill="#bfe6f8"/>
<rect x="95.92" y="93.77" width="8.00" height="8.70" fill="#bfe6f8"/>
<rect x="103.74" y="94.29" width="8.00" height="8.70" fill="#88cbea"/>
<rect x="111.56" y="94.81" width="8.00" height="8.70" fill="#88cbea"/>
<rect x="119.38" y="95.33" width="8.00" height="8.70" fill="#88cbea"/>
<rect x="127.20" y="95.85" width="8.00" height="8.70" fill="#88cbea"/>
<rect x="135.02" y="96.37" width="8.00" height="8.70" fill="#88cbea"/>
<rect x="88.80" y="87.67" width="8.00" height="8.70" fill="#bfe6f8"/>
<rect x="96.62" y="88.19" width="8.00" height="8.70" fill="#bfe6f8"/>
<rect x="104.44" y="88.71" width="8.00" height="8.70" fill="#e0f7fe"/>
<rect x="112.26" y="89.23" width="8.00" height="8.70" fill="#88cbea"/>
<rect x="120.08" y="89.75" width="8.00" height="8.70" fill="#88cbea"/>
<rect x="127.90" y="90.27" width="8.00" height="8.70" fill="#88cbea"/>
<rect x="105.14" y="83.13" width="8.00" height="8.70" fill="#88cbea"/>
</g>
<use href="#coast"/>
<g shape-rendering="crispEdges">
<rect x="40.48" y="98.83" width="8.00" height="5.58" fill="#4169e1"/>
<rect x="41.18" y="95.71" width="7.30" height="3.22" fill="#4169e1"/>
<rect x="40.48" y="95.71" width="0.70" height="3.22" fill="#4169e1"/>
<rect x="84.60" y="124.27" width="8.00" height="5.58" fill="#0000cd"/>
<rect x="91.72" y="130.37" width="8.00" height="5.58" fill="#4169e1"/>
<rect x="113.08" y="148.67" width="8.00" height="5.58" fill="#4169e1"/>
</g>
<circle cx="109.14" cy="87.48" r="0.85" fill="#0e2240"/>
<circle cx="124.08" cy="94.10" r="0.85" fill="#0e2240"/>
<circle cx="131.90" cy="94.62" r="0.85" fill="#0e2240"/>
<circle cx="53.00" cy="95.00" r="0.85" fill="#0e2240"/>
<circle cx="60.82" cy="95.52" r="0.85" fill="#0e2240"/>
<circle cx="131.20" cy="100.20" r="0.85" fill="#0e2240"/>
<circle cx="139.02" cy="100.72" r="0.85" fill="#0e2240"/>
<circle cx="44.48" cy="100.06" r="0.85" fill="#0e2240"/>
<circle cx="52.30" cy="100.58" r="0.85" fill="#0e2240"/>
<circle cx="60.12" cy="101.10" r="0.85" fill="#0e2240"/>
<circle cx="67.94" cy="101.62" r="0.85" fill="#0e2240"/>
<circle cx="91.40" cy="103.18" r="0.85" fill="#0e2240"/>
<circle cx="99.22" cy="103.70" r="0.85" fill="#0e2240"/>
<circle cx="107.04" cy="104.22" r="0.85" fill="#0e2240"/>
<circle cx="114.86" cy="104.74" r="0.85" fill="#0e2240"/>
<circle cx="122.68" cy="105.26" r="0.85" fill="#0e2240"/>
<circle cx="28.14" cy="104.60" r="0.85" fill="#0e2240"/>
<circle cx="35.96" cy="105.12" r="0.85" fill="#0e2240"/>
<circle cx="43.78" cy="105.64" r="0.85" fill="#0e2240"/>
<circle cx="51.60" cy="106.16" r="0.85" fill="#0e2240"/>
<circle cx="59.42" cy="106.68" r="0.85" fill="#0e2240"/>
<circle cx="67.24" cy="107.20" r="0.85" fill="#0e2240"/>
<circle cx="75.06" cy="107.72" r="0.85" fill="#0e2240"/>
<circle cx="82.88" cy="108.24" r="0.85" fill="#0e2240"/>
<circle cx="90.70" cy="108.76" r="0.85" fill="#0e2240"/>
<circle cx="98.52" cy="109.28" r="0.85" fill="#0e2240"/>
<circle cx="106.34" cy="109.80" r="0.85" fill="#0e2240"/>
<circle cx="114.16" cy="110.32" r="0.85" fill="#0e2240"/>
<circle cx="121.98" cy="110.84" r="0.85" fill="#0e2240"/>
<circle cx="43.08" cy="111.22" r="0.85" fill="#0e2240"/>
<circle cx="50.90" cy="111.74" r="0.85" fill="#0e2240"/>
<circle cx="58.72" cy="112.26" r="0.85" fill="#0e2240"/>
<circle cx="66.54" cy="112.78" r="0.85" fill="#0e2240"/>
<circle cx="74.36" cy="113.30" r="0.85" fill="#0e2240"/>
<circle cx="105.64" cy="115.38" r="0.85" fill="#0e2240"/>
<circle cx="113.46" cy="115.90" r="0.85" fill="#0e2240"/>
<circle cx="121.28" cy="116.42" r="0.85" fill="#0e2240"/>
<circle cx="129.10" cy="116.94" r="0.85" fill="#0e2240"/>
<circle cx="42.38" cy="116.80" r="0.85" fill="#0e2240"/>
<circle cx="65.84" cy="118.36" r="0.85" fill="#0e2240"/>
<circle cx="73.66" cy="118.88" r="0.85" fill="#0e2240"/>
<circle cx="97.12" cy="120.44" r="0.85" fill="#0e2240"/>
<circle cx="104.94" cy="120.96" r="0.85" fill="#0e2240"/>
<circle cx="120.58" cy="122.00" r="0.85" fill="#0e2240"/>
<circle cx="26.04" cy="121.34" r="0.85" fill="#0e2240"/>
<circle cx="33.86" cy="121.86" r="0.85" fill="#0e2240"/>
<circle cx="88.60" cy="125.50" r="0.85" fill="#0e2240"/>
<circle cx="96.42" cy="126.02" r="0.85" fill="#0e2240"/>
<circle cx="104.24" cy="126.54" r="0.85" fill="#0e2240"/>
<circle cx="112.06" cy="127.06" r="0.85" fill="#0e2240"/>
<circle cx="33.16" cy="127.44" r="0.85" fill="#0e2240"/>
<circle cx="40.98" cy="127.96" r="0.85" fill="#0e2240"/>
<circle cx="48.80" cy="128.48" r="0.85" fill="#0e2240"/>
<circle cx="87.90" cy="131.08" r="0.85" fill="#0e2240"/>
<circle cx="95.72" cy="131.60" r="0.85" fill="#0e2240"/>
<circle cx="103.54" cy="132.12" r="0.85" fill="#0e2240"/>
<circle cx="111.36" cy="132.64" r="0.85" fill="#0e2240"/>
<circle cx="119.18" cy="133.16" r="0.85" fill="#0e2240"/>
<circle cx="127.00" cy="133.68" r="0.85" fill="#0e2240"/>
<circle cx="24.64" cy="132.50" r="0.85" fill="#0e2240"/>
<circle cx="32.46" cy="133.02" r="0.85" fill="#0e2240"/>
<circle cx="102.84" cy="137.70" r="0.85" fill="#0e2240"/>
<circle cx="110.66" cy="138.22" r="0.85" fill="#0e2240"/>
<circle cx="118.48" cy="138.74" r="0.85" fill="#0e2240"/>
<circle cx="126.30" cy="139.26" r="0.85" fill="#0e2240"/>
<circle cx="109.96" cy="143.80" r="0.85" fill="#0e2240"/>
<circle cx="117.78" cy="144.32" r="0.85" fill="#0e2240"/>
<circle cx="125.60" cy="144.84" r="0.85" fill="#0e2240"/>
<circle cx="117.08" cy="149.90" r="0.85" fill="#0e2240"/>
<circle cx="124.90" cy="150.42" r="0.85" fill="#0e2240"/>
<circle cx="132.72" cy="150.94" r="0.85" fill="#0e2240"/>
<circle cx="132.02" cy="156.52" r="0.85" fill="#0e2240"/>
<circle cx="131.32" cy="162.10" r="0.85" fill="#0e2240"/>
<circle cx="138.44" cy="168.20" r="0.85" fill="#0e2240"/>
</g>
<rect x="0" y="0" width="216.8" height="195.5" fill="none" stroke="#8e8e8e" stroke-width="0.8"/>
<line x1="7.9" y1="195.5" x2="7.9" y2="197.1" stroke="#999" stroke-width="0.5"/>
<text x="7.9" y="203.5" font-size="3.7" text-anchor="middle" fill="#111">23.0</text>
<line x1="74.8" y1="195.5" x2="74.8" y2="197.1" stroke="#999" stroke-width="0.5"/>
<text x="74.8" y="203.5" font-size="3.7" text-anchor="middle" fill="#111">23.5</text>
<line x1="141.7" y1="195.5" x2="141.7" y2="197.1" stroke="#999" stroke-width="0.5"/>
<text x="141.7" y="203.5" font-size="3.7" text-anchor="middle" fill="#111">24.0</text>
<line x1="208.6" y1="195.5" x2="208.6" y2="197.1" stroke="#999" stroke-width="0.5"/>
<text x="208.6" y="203.5" font-size="3.7" text-anchor="middle" fill="#111">24.5</text>
<line x1="-1.6" y1="7.3" x2="0" y2="7.3" stroke="#999" stroke-width="0.5"/>
<text transform="translate(-4.8 7.3) rotate(-90)" font-size="3.7" text-anchor="middle" fill="#111">39.0</text>
<line x1="-1.6" y1="67.6" x2="0" y2="67.6" stroke="#999" stroke-width="0.5"/>
<text transform="translate(-4.8 67.6) rotate(-90)" font-size="3.7" text-anchor="middle" fill="#111">38.5</text>
<line x1="-1.6" y1="127.9" x2="0" y2="127.9" stroke="#999" stroke-width="0.5"/>
<text transform="translate(-4.8 127.9) rotate(-90)" font-size="3.7" text-anchor="middle" fill="#111">38.0</text>
<line x1="-1.6" y1="188.2" x2="0" y2="188.2" stroke="#999" stroke-width="0.5"/>
<text transform="translate(-4.8 188.2) rotate(-90)" font-size="3.7" text-anchor="middle" fill="#111">37.5</text>
<text x="103.2" y="-7.0" font-size="10.5" text-anchor="middle" fill="#1a1a1a" stroke="#1a1a1a" stroke-width="0.12">COR of FWI95 − SPEI</text>
<text x="25.0" y="21.5" font-size="14.15" fill="#111" stroke="#111" stroke-width="0.15">(2075−2099)</text>
<text x="149.7" y="21.5" font-size="14.15" fill="#111" stroke="#111" stroke-width="0.15">(RCP8.5)</text>
</g>
<text x="528.6" y="716.4" font-size="15.8" style="font-family:'Liberation Serif',serif" fill="#111" stroke="#111" stroke-width="0.25">(e)</text>
<rect x="272.0" y="38.60" width="5.6" height="13.72" fill="#f5a9b8"/>
<rect x="272.0" y="52.12" width="5.6" height="27.24" fill="#ffffff"/>
<rect x="272.0" y="79.16" width="5.6" height="27.24" fill="#e0f7fe"/>
<rect x="272.0" y="106.20" width="5.6" height="13.72" fill="#bfe6f8"/>
<rect x="272.0" y="119.72" width="5.6" height="13.72" fill="#88cbea"/>
<rect x="272.0" y="133.24" width="5.6" height="13.72" fill="#a8d6ea"/>
<rect x="272.0" y="146.76" width="5.6" height="13.72" fill="#4169e1"/>
<rect x="272.0" y="160.28" width="5.6" height="27.24" fill="#0000cd"/>
<rect x="272.0" y="187.32" width="5.6" height="13.72" fill="#00008b"/>
<rect x="272.0" y="38.60" width="5.6" height="162.24" fill="none" stroke="#aaa" stroke-width="0.4"/>
<text x="281.2" y="41.00" font-size="5.6" fill="#222">0.2</text>
<text x="281.2" y="54.52" font-size="5.6" fill="#222">0.1</text>
<text x="281.2" y="68.04" font-size="5.6" fill="#222">0.0</text>
<text x="281.2" y="81.56" font-size="5.6" fill="#222">-0.1</text>
<text x="281.2" y="95.08" font-size="5.6" fill="#222">-0.2</text>
<text x="281.2" y="108.60" font-size="5.6" fill="#222">-0.3</text>
<text x="281.2" y="122.12" font-size="5.6" fill="#222">-0.4</text>
<text x="281.2" y="135.64" font-size="5.6" fill="#222">-0.5</text>
<text x="281.2" y="149.16" font-size="5.6" fill="#222">-0.6</text>
<text x="281.2" y="162.68" font-size="5.6" fill="#222">-0.7</text>
<text x="281.2" y="176.20" font-size="5.6" fill="#222">-0.8</text>
<text x="281.2" y="189.72" font-size="5.6" fill="#222">-0.9</text>
<text x="281.2" y="203.24" font-size="5.6" fill="#222">-1.0</text>
<text x="272.6" y="28.2" font-size="7.0" font-weight="bold" fill="#111">COR</text>
<line x1="531.6" y1="262" x2="531.6" y2="455.5" stroke="#b5b5b5" stroke-width="0.8"/>
</svg></body></html>
